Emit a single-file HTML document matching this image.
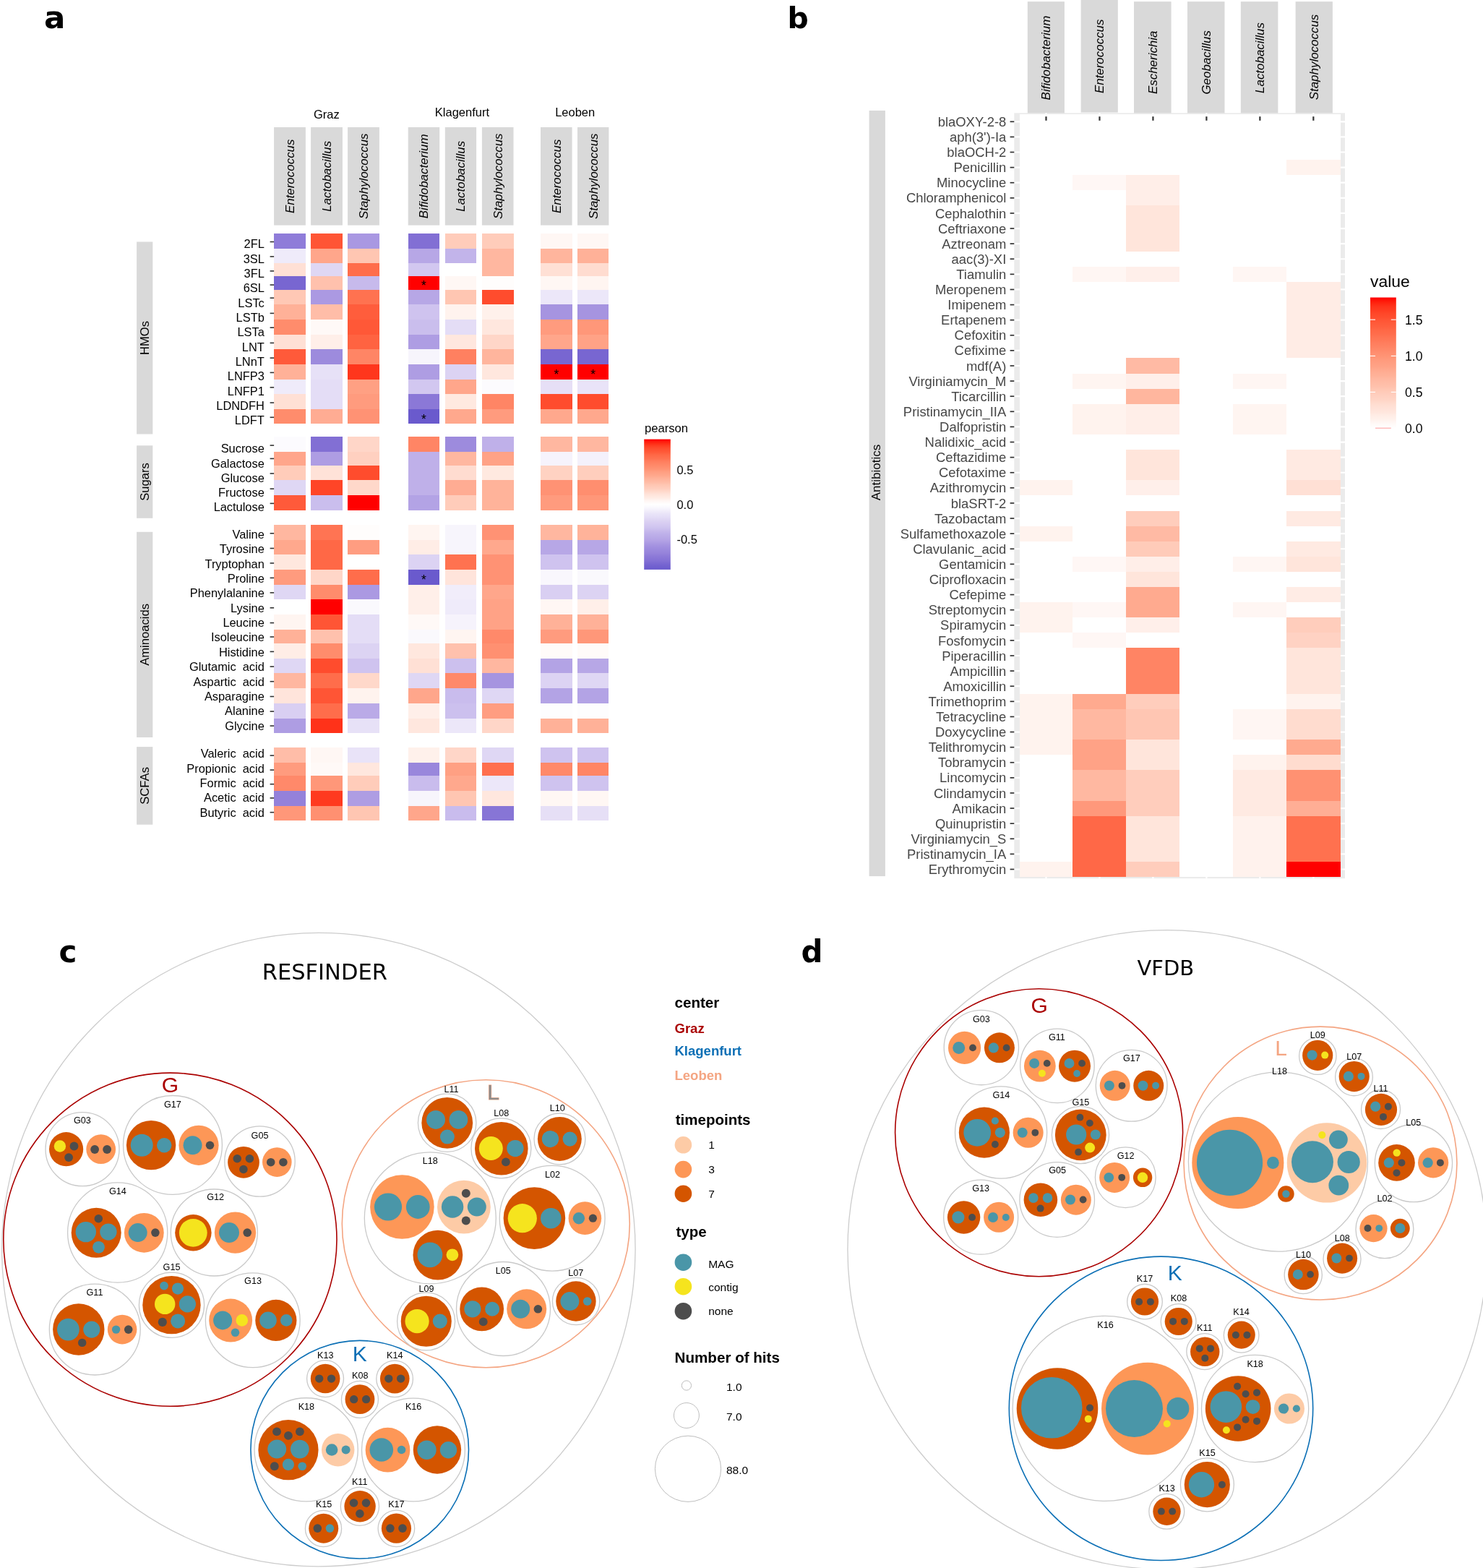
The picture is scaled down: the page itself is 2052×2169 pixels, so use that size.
<!DOCTYPE html>
<html><head><meta charset="utf-8"><title>Figure</title>
<style>html,body{margin:0;padding:0;background:#fff;}svg{display:block;}</style>
</head><body>
<svg xmlns="http://www.w3.org/2000/svg" width="2052" height="2169" viewBox="0 0 2052 2169">
<rect width="2052" height="2169" fill="#FFFFFF"/>
<text x="61.0" y="38.8" style="font-family:'DejaVu Sans',sans-serif;font-weight:bold;font-size:43.5px">a</text>
<g style="font-family:'Liberation Sans',Arial,sans-serif;font-size:16.5px" text-anchor="middle">
<text x="451.9" y="163.6">Graz</text>
<text x="639.4" y="161.2">Klagenfurt</text>
<text x="795.7" y="161.2">Leoben</text>
</g>
<g fill="#D9D9D9">
<rect x="379.1" y="176.0" width="43.8" height="135.6"/>
<rect x="430.1" y="176.0" width="43.8" height="135.6"/>
<rect x="481.1" y="176.0" width="43.8" height="135.6"/>
<rect x="564.7" y="176.0" width="43.5" height="135.6"/>
<rect x="615.8" y="176.0" width="43.3" height="135.6"/>
<rect x="666.9" y="176.0" width="43.6" height="135.6"/>
<rect x="748" y="176.0" width="43.6" height="135.6"/>
<rect x="799" y="176.0" width="43.4" height="135.6"/>
</g>
<g style="font-family:'Liberation Sans',Arial,sans-serif;font-size:16.95px;font-style:italic" text-anchor="middle">
<text transform="translate(407,243.8) rotate(-90)">Enterococcus</text>
<text transform="translate(458,243.8) rotate(-90)">Lactobacillus</text>
<text transform="translate(509,243.8) rotate(-90)">Staphylococcus</text>
<text transform="translate(592.45,243.8) rotate(-90)">Bifidobacterium</text>
<text transform="translate(643.45,243.8) rotate(-90)">Lactobacillus</text>
<text transform="translate(694.7,243.8) rotate(-90)">Staphylococcus</text>
<text transform="translate(775.8,243.8) rotate(-90)">Enterococcus</text>
<text transform="translate(826.7,243.8) rotate(-90)">Staphylococcus</text>
</g>
<g shape-rendering="crispEdges">
<rect x="379.1" y="323.4" width="43.8" height="20.3" fill="#8F7CD9"/>
<rect x="379.1" y="343.7" width="43.8" height="20.7" fill="#EFEBFA"/>
<rect x="379.1" y="364.4" width="43.8" height="17.4" fill="#FFE0D5"/>
<rect x="379.1" y="381.8" width="43.8" height="18.8" fill="#7866D1"/>
<rect x="379.1" y="400.6" width="43.8" height="20.7" fill="#FFC8B5"/>
<rect x="379.1" y="421.3" width="43.8" height="20.6" fill="#FFB198"/>
<rect x="379.1" y="441.9" width="43.8" height="20.7" fill="#FF8C6C"/>
<rect x="379.1" y="462.6" width="43.8" height="20.6" fill="#FFE0D5"/>
<rect x="379.1" y="483.2" width="43.8" height="20.7" fill="#FF5A3A"/>
<rect x="379.1" y="503.9" width="43.8" height="20.7" fill="#FFB198"/>
<rect x="379.1" y="524.6" width="43.8" height="20.6" fill="#EFEBFA"/>
<rect x="379.1" y="545.2" width="43.8" height="20.7" fill="#FFE0D5"/>
<rect x="379.1" y="565.9" width="43.8" height="20.3" fill="#FF8C6C"/>
<rect x="430.1" y="323.4" width="43.8" height="20.3" fill="#FF5535"/>
<rect x="430.1" y="343.7" width="43.8" height="20.7" fill="#FFA68B"/>
<rect x="430.1" y="364.4" width="43.8" height="17.4" fill="#DFD7F4"/>
<rect x="430.1" y="381.8" width="43.8" height="18.8" fill="#FFC1AD"/>
<rect x="430.1" y="400.6" width="43.8" height="20.7" fill="#AB99E2"/>
<rect x="430.1" y="421.3" width="43.8" height="20.6" fill="#FFBDA8"/>
<rect x="430.1" y="441.9" width="43.8" height="20.7" fill="#FFF9F7"/>
<rect x="430.1" y="462.6" width="43.8" height="20.6" fill="#FFEFE9"/>
<rect x="430.1" y="483.2" width="43.8" height="20.7" fill="#9D8BDD"/>
<rect x="430.1" y="503.9" width="43.8" height="20.7" fill="#E7E1F7"/>
<rect x="430.1" y="524.6" width="43.8" height="20.6" fill="#E4DDF6"/>
<rect x="430.1" y="545.2" width="43.8" height="20.7" fill="#E4DDF6"/>
<rect x="430.1" y="565.9" width="43.8" height="20.3" fill="#FFAC93"/>
<rect x="481.1" y="323.4" width="43.8" height="20.3" fill="#A998E2"/>
<rect x="481.1" y="343.7" width="43.8" height="20.7" fill="#FFC6B2"/>
<rect x="481.1" y="364.4" width="43.8" height="17.4" fill="#FF6D4B"/>
<rect x="481.1" y="381.8" width="43.8" height="18.8" fill="#C7BAEC"/>
<rect x="481.1" y="400.6" width="43.8" height="20.7" fill="#FF7250"/>
<rect x="481.1" y="421.3" width="43.8" height="20.6" fill="#FF5D3C"/>
<rect x="481.1" y="441.9" width="43.8" height="20.7" fill="#FF5837"/>
<rect x="481.1" y="462.6" width="43.8" height="20.6" fill="#FF6341"/>
<rect x="481.1" y="483.2" width="43.8" height="20.7" fill="#FF8565"/>
<rect x="481.1" y="503.9" width="43.8" height="20.7" fill="#FF361C"/>
<rect x="481.1" y="524.6" width="43.8" height="20.6" fill="#FFA083"/>
<rect x="481.1" y="545.2" width="43.8" height="20.7" fill="#FF9B7E"/>
<rect x="481.1" y="565.9" width="43.8" height="20.3" fill="#FF9274"/>
<rect x="564.7" y="323.4" width="43.5" height="20.3" fill="#826FD4"/>
<rect x="564.7" y="343.7" width="43.5" height="20.7" fill="#B7A7E6"/>
<rect x="564.7" y="364.4" width="43.5" height="17.4" fill="#D2C7F0"/>
<rect x="564.7" y="381.8" width="43.5" height="18.8" fill="#FF0000"/>
<rect x="564.7" y="400.6" width="43.5" height="20.7" fill="#B7A7E6"/>
<rect x="564.7" y="421.3" width="43.5" height="20.6" fill="#CFC3EF"/>
<rect x="564.7" y="441.9" width="43.5" height="20.7" fill="#CABEED"/>
<rect x="564.7" y="462.6" width="43.5" height="20.6" fill="#AE9DE3"/>
<rect x="564.7" y="483.2" width="43.5" height="20.7" fill="#F7F5FC"/>
<rect x="564.7" y="503.9" width="43.5" height="20.7" fill="#AE9DE3"/>
<rect x="564.7" y="524.6" width="43.5" height="20.6" fill="#D2C7F0"/>
<rect x="564.7" y="545.2" width="43.5" height="20.7" fill="#8B78D7"/>
<rect x="564.7" y="565.9" width="43.5" height="20.3" fill="#6A5ACD"/>
<rect x="615.8" y="323.4" width="43.3" height="20.3" fill="#FFCCBA"/>
<rect x="615.8" y="343.7" width="43.3" height="20.7" fill="#C2B4EA"/>
<rect x="615.8" y="364.4" width="43.3" height="17.4" fill="#FFFFFF"/>
<rect x="615.8" y="381.8" width="43.3" height="18.8" fill="#FFF7F4"/>
<rect x="615.8" y="400.6" width="43.3" height="20.7" fill="#FFC6B2"/>
<rect x="615.8" y="421.3" width="43.3" height="20.6" fill="#FFF3EE"/>
<rect x="615.8" y="441.9" width="43.3" height="20.7" fill="#E4DDF6"/>
<rect x="615.8" y="462.6" width="43.3" height="20.6" fill="#FFE7DE"/>
<rect x="615.8" y="483.2" width="43.3" height="20.7" fill="#FF8060"/>
<rect x="615.8" y="503.9" width="43.3" height="20.7" fill="#DCD3F3"/>
<rect x="615.8" y="524.6" width="43.3" height="20.6" fill="#FFA68B"/>
<rect x="615.8" y="545.2" width="43.3" height="20.7" fill="#FFE9E0"/>
<rect x="615.8" y="565.9" width="43.3" height="20.3" fill="#FFA88D"/>
<rect x="666.9" y="323.4" width="43.6" height="20.3" fill="#FFCCBA"/>
<rect x="666.9" y="343.7" width="43.6" height="20.7" fill="#FFB7A0"/>
<rect x="666.9" y="364.4" width="43.6" height="17.4" fill="#FFB7A0"/>
<rect x="666.9" y="381.8" width="43.6" height="18.8" fill="#FFFDFC"/>
<rect x="666.9" y="400.6" width="43.6" height="20.7" fill="#FF4C2D"/>
<rect x="666.9" y="421.3" width="43.6" height="20.6" fill="#FFF1EB"/>
<rect x="666.9" y="441.9" width="43.6" height="20.7" fill="#FFE7DE"/>
<rect x="666.9" y="462.6" width="43.6" height="20.6" fill="#FFD6C8"/>
<rect x="666.9" y="483.2" width="43.6" height="20.7" fill="#FFB59D"/>
<rect x="666.9" y="503.9" width="43.6" height="20.7" fill="#FFE7DE"/>
<rect x="666.9" y="524.6" width="43.6" height="20.6" fill="#FCFBFE"/>
<rect x="666.9" y="545.2" width="43.6" height="20.7" fill="#FF8565"/>
<rect x="666.9" y="565.9" width="43.6" height="20.3" fill="#FF9B7E"/>
<rect x="748" y="323.4" width="43.6" height="20.3" fill="#FFF7F4"/>
<rect x="748" y="343.7" width="43.6" height="20.7" fill="#FFB59D"/>
<rect x="748" y="364.4" width="43.6" height="17.4" fill="#FFE0D5"/>
<rect x="748" y="381.8" width="43.6" height="18.8" fill="#FFF7F4"/>
<rect x="748" y="400.6" width="43.6" height="20.7" fill="#ECE7F9"/>
<rect x="748" y="421.3" width="43.6" height="20.6" fill="#A694E0"/>
<rect x="748" y="441.9" width="43.6" height="20.7" fill="#FF9B7E"/>
<rect x="748" y="462.6" width="43.6" height="20.6" fill="#FFA68B"/>
<rect x="748" y="483.2" width="43.6" height="20.7" fill="#7866D1"/>
<rect x="748" y="503.9" width="43.6" height="20.7" fill="#FF0000"/>
<rect x="748" y="524.6" width="43.6" height="20.6" fill="#E6DFF6"/>
<rect x="748" y="545.2" width="43.6" height="20.7" fill="#FF4C2D"/>
<rect x="748" y="565.9" width="43.6" height="20.3" fill="#FFA88D"/>
<rect x="799" y="323.4" width="43.4" height="20.3" fill="#FFF7F4"/>
<rect x="799" y="343.7" width="43.4" height="20.7" fill="#FFB198"/>
<rect x="799" y="364.4" width="43.4" height="17.4" fill="#FFDCD0"/>
<rect x="799" y="381.8" width="43.4" height="18.8" fill="#FFF5F1"/>
<rect x="799" y="400.6" width="43.4" height="20.7" fill="#ECE7F9"/>
<rect x="799" y="421.3" width="43.4" height="20.6" fill="#A694E0"/>
<rect x="799" y="441.9" width="43.4" height="20.7" fill="#FF9779"/>
<rect x="799" y="462.6" width="43.4" height="20.6" fill="#FFA286"/>
<rect x="799" y="483.2" width="43.4" height="20.7" fill="#7866D1"/>
<rect x="799" y="503.9" width="43.4" height="20.7" fill="#FF0000"/>
<rect x="799" y="524.6" width="43.4" height="20.6" fill="#E9E3F8"/>
<rect x="799" y="545.2" width="43.4" height="20.7" fill="#FF4C2D"/>
<rect x="799" y="565.9" width="43.4" height="20.3" fill="#FFA88D"/>
<rect x="379.1" y="604.3" width="43.8" height="20.9" fill="#FCFBFE"/>
<rect x="379.1" y="625.2" width="43.8" height="18.7" fill="#FFA68B"/>
<rect x="379.1" y="643.9" width="43.8" height="20.4" fill="#FFCCBA"/>
<rect x="379.1" y="664.3" width="43.8" height="20.7" fill="#DFD7F4"/>
<rect x="379.1" y="685" width="43.8" height="20.5" fill="#FF5A3A"/>
<rect x="430.1" y="604.3" width="43.8" height="20.9" fill="#826FD4"/>
<rect x="430.1" y="625.2" width="43.8" height="18.7" fill="#AE9DE3"/>
<rect x="430.1" y="643.9" width="43.8" height="20.4" fill="#FFE2D8"/>
<rect x="430.1" y="664.3" width="43.8" height="20.7" fill="#FF4527"/>
<rect x="430.1" y="685" width="43.8" height="20.5" fill="#CABEED"/>
<rect x="481.1" y="604.3" width="43.8" height="20.9" fill="#FFD6C8"/>
<rect x="481.1" y="625.2" width="43.8" height="18.7" fill="#FFD0C0"/>
<rect x="481.1" y="643.9" width="43.8" height="20.4" fill="#FF4C2D"/>
<rect x="481.1" y="664.3" width="43.8" height="20.7" fill="#FFD8CA"/>
<rect x="481.1" y="685" width="43.8" height="20.5" fill="#FF0000"/>
<rect x="564.7" y="604.3" width="43.5" height="20.9" fill="#FF8565"/>
<rect x="564.7" y="625.2" width="43.5" height="18.7" fill="#BFB0E9"/>
<rect x="564.7" y="643.9" width="43.5" height="20.4" fill="#BFB0E9"/>
<rect x="564.7" y="664.3" width="43.5" height="20.7" fill="#BFB0E9"/>
<rect x="564.7" y="685" width="43.5" height="20.5" fill="#B3A3E5"/>
<rect x="615.8" y="604.3" width="43.3" height="20.9" fill="#9D8BDD"/>
<rect x="615.8" y="625.2" width="43.3" height="18.7" fill="#FFB7A0"/>
<rect x="615.8" y="643.9" width="43.3" height="20.4" fill="#FFDCD0"/>
<rect x="615.8" y="664.3" width="43.3" height="20.7" fill="#FFAC93"/>
<rect x="615.8" y="685" width="43.3" height="20.5" fill="#FFCCBA"/>
<rect x="666.9" y="604.3" width="43.6" height="20.9" fill="#BFB0E9"/>
<rect x="666.9" y="625.2" width="43.6" height="18.7" fill="#FFA286"/>
<rect x="666.9" y="643.9" width="43.6" height="20.4" fill="#FFE9E0"/>
<rect x="666.9" y="664.3" width="43.6" height="20.7" fill="#FFB39A"/>
<rect x="666.9" y="685" width="43.6" height="20.5" fill="#FFB39A"/>
<rect x="748" y="604.3" width="43.6" height="20.9" fill="#FFB7A0"/>
<rect x="748" y="625.2" width="43.6" height="18.7" fill="#F6F3FC"/>
<rect x="748" y="643.9" width="43.6" height="20.4" fill="#FFD2C2"/>
<rect x="748" y="664.3" width="43.6" height="20.7" fill="#FF9274"/>
<rect x="748" y="685" width="43.6" height="20.5" fill="#FF9B7E"/>
<rect x="799" y="604.3" width="43.4" height="20.9" fill="#FFB7A0"/>
<rect x="799" y="625.2" width="43.4" height="18.7" fill="#F4F1FB"/>
<rect x="799" y="643.9" width="43.4" height="20.4" fill="#FFCEBD"/>
<rect x="799" y="664.3" width="43.4" height="20.7" fill="#FF8E6F"/>
<rect x="799" y="685" width="43.4" height="20.5" fill="#FF9779"/>
<rect x="379.1" y="726.1" width="43.8" height="20.7" fill="#FFB7A0"/>
<rect x="379.1" y="746.8" width="43.8" height="20.6" fill="#FFA88D"/>
<rect x="379.1" y="767.4" width="43.8" height="20.5" fill="#FFE7DE"/>
<rect x="379.1" y="787.9" width="43.8" height="20.7" fill="#FF9B7E"/>
<rect x="379.1" y="808.6" width="43.8" height="20.5" fill="#DFD7F4"/>
<rect x="379.1" y="829.1" width="43.8" height="20.7" fill="#FFFFFF"/>
<rect x="379.1" y="849.8" width="43.8" height="21.2" fill="#FFF5F1"/>
<rect x="379.1" y="871" width="43.8" height="19" fill="#FFB198"/>
<rect x="379.1" y="890" width="43.8" height="21" fill="#FFEDE6"/>
<rect x="379.1" y="911" width="43.8" height="20.1" fill="#DFD7F4"/>
<rect x="379.1" y="931.1" width="43.8" height="20.8" fill="#FFB7A0"/>
<rect x="379.1" y="951.9" width="43.8" height="21" fill="#FFE4DB"/>
<rect x="379.1" y="972.9" width="43.8" height="20.6" fill="#D9CFF2"/>
<rect x="379.1" y="993.5" width="43.8" height="20" fill="#AE9DE3"/>
<rect x="430.1" y="726.1" width="43.8" height="20.7" fill="#FF7453"/>
<rect x="430.1" y="746.8" width="43.8" height="20.6" fill="#FF6846"/>
<rect x="430.1" y="767.4" width="43.8" height="20.5" fill="#FF6846"/>
<rect x="430.1" y="787.9" width="43.8" height="20.7" fill="#FFD6C8"/>
<rect x="430.1" y="808.6" width="43.8" height="20.5" fill="#FF8C6C"/>
<rect x="430.1" y="829.1" width="43.8" height="20.7" fill="#FF0000"/>
<rect x="430.1" y="849.8" width="43.8" height="21.2" fill="#FF5535"/>
<rect x="430.1" y="871" width="43.8" height="19" fill="#FFC1AD"/>
<rect x="430.1" y="890" width="43.8" height="21" fill="#FF8C6C"/>
<rect x="430.1" y="911" width="43.8" height="20.1" fill="#FF4C2D"/>
<rect x="430.1" y="931.1" width="43.8" height="20.8" fill="#FF6D4B"/>
<rect x="430.1" y="951.9" width="43.8" height="21" fill="#FF5535"/>
<rect x="430.1" y="972.9" width="43.8" height="20.6" fill="#FF6D4B"/>
<rect x="430.1" y="993.5" width="43.8" height="20" fill="#FF3219"/>
<rect x="481.1" y="726.1" width="43.8" height="20.7" fill="#FFFDFC"/>
<rect x="481.1" y="746.8" width="43.8" height="20.6" fill="#FF9D81"/>
<rect x="481.1" y="767.4" width="43.8" height="20.5" fill="#FFFFFF"/>
<rect x="481.1" y="787.9" width="43.8" height="20.7" fill="#FF6D4B"/>
<rect x="481.1" y="808.6" width="43.8" height="20.5" fill="#AB99E2"/>
<rect x="481.1" y="829.1" width="43.8" height="20.7" fill="#FAF9FD"/>
<rect x="481.1" y="849.8" width="43.8" height="21.2" fill="#E4DDF6"/>
<rect x="481.1" y="871" width="43.8" height="19" fill="#E4DDF6"/>
<rect x="481.1" y="890" width="43.8" height="21" fill="#DCD3F3"/>
<rect x="481.1" y="911" width="43.8" height="20.1" fill="#CFC3EF"/>
<rect x="481.1" y="931.1" width="43.8" height="20.8" fill="#FFD8CA"/>
<rect x="481.1" y="951.9" width="43.8" height="21" fill="#FFF3EE"/>
<rect x="481.1" y="972.9" width="43.8" height="20.6" fill="#BAAAE7"/>
<rect x="481.1" y="993.5" width="43.8" height="20" fill="#E7E1F7"/>
<rect x="564.7" y="726.1" width="43.5" height="20.7" fill="#FFF5F1"/>
<rect x="564.7" y="746.8" width="43.5" height="20.6" fill="#FFEDE6"/>
<rect x="564.7" y="767.4" width="43.5" height="20.5" fill="#DCD3F3"/>
<rect x="564.7" y="787.9" width="43.5" height="20.7" fill="#6A5ACD"/>
<rect x="564.7" y="808.6" width="43.5" height="20.5" fill="#FFEFE9"/>
<rect x="564.7" y="829.1" width="43.5" height="20.7" fill="#FFEFE9"/>
<rect x="564.7" y="849.8" width="43.5" height="21.2" fill="#FFF9F7"/>
<rect x="564.7" y="871" width="43.5" height="19" fill="#FAF9FD"/>
<rect x="564.7" y="890" width="43.5" height="21" fill="#FFE7DE"/>
<rect x="564.7" y="911" width="43.5" height="20.1" fill="#FFE0D5"/>
<rect x="564.7" y="931.1" width="43.5" height="20.8" fill="#DFD7F4"/>
<rect x="564.7" y="951.9" width="43.5" height="21" fill="#FFA68B"/>
<rect x="564.7" y="972.9" width="43.5" height="20.6" fill="#FFEFE9"/>
<rect x="564.7" y="993.5" width="43.5" height="20" fill="#FFE7DE"/>
<rect x="615.8" y="726.1" width="43.3" height="20.7" fill="#F7F5FC"/>
<rect x="615.8" y="746.8" width="43.3" height="20.6" fill="#F7F5FC"/>
<rect x="615.8" y="767.4" width="43.3" height="20.5" fill="#FF7250"/>
<rect x="615.8" y="787.9" width="43.3" height="20.7" fill="#FFE4DB"/>
<rect x="615.8" y="808.6" width="43.3" height="20.5" fill="#F1EDFA"/>
<rect x="615.8" y="829.1" width="43.3" height="20.7" fill="#EFEBFA"/>
<rect x="615.8" y="849.8" width="43.3" height="21.2" fill="#F6F3FC"/>
<rect x="615.8" y="871" width="43.3" height="19" fill="#FFF5F1"/>
<rect x="615.8" y="890" width="43.3" height="21" fill="#FFC1AD"/>
<rect x="615.8" y="911" width="43.3" height="20.1" fill="#CCC0EE"/>
<rect x="615.8" y="931.1" width="43.3" height="20.8" fill="#FF896A"/>
<rect x="615.8" y="951.9" width="43.3" height="21" fill="#C9BCED"/>
<rect x="615.8" y="972.9" width="43.3" height="20.6" fill="#CCC0EE"/>
<rect x="615.8" y="993.5" width="43.3" height="20" fill="#ECE7F9"/>
<rect x="666.9" y="726.1" width="43.6" height="20.7" fill="#FF9274"/>
<rect x="666.9" y="746.8" width="43.6" height="20.6" fill="#FFA88D"/>
<rect x="666.9" y="767.4" width="43.6" height="20.5" fill="#FF9274"/>
<rect x="666.9" y="787.9" width="43.6" height="20.7" fill="#FF9274"/>
<rect x="666.9" y="808.6" width="43.6" height="20.5" fill="#FFA68B"/>
<rect x="666.9" y="829.1" width="43.6" height="20.7" fill="#FFA286"/>
<rect x="666.9" y="849.8" width="43.6" height="21.2" fill="#FFA286"/>
<rect x="666.9" y="871" width="43.6" height="19" fill="#FF896A"/>
<rect x="666.9" y="890" width="43.6" height="21" fill="#FF9071"/>
<rect x="666.9" y="911" width="43.6" height="20.1" fill="#FFB7A0"/>
<rect x="666.9" y="931.1" width="43.6" height="20.8" fill="#A694E0"/>
<rect x="666.9" y="951.9" width="43.6" height="21" fill="#DFD7F4"/>
<rect x="666.9" y="972.9" width="43.6" height="20.6" fill="#FF9D81"/>
<rect x="666.9" y="993.5" width="43.6" height="20" fill="#FFD6C8"/>
<rect x="748" y="726.1" width="43.6" height="20.7" fill="#FFB7A0"/>
<rect x="748" y="746.8" width="43.6" height="20.6" fill="#B7A7E6"/>
<rect x="748" y="767.4" width="43.6" height="20.5" fill="#CFC3EF"/>
<rect x="748" y="787.9" width="43.6" height="20.7" fill="#F9F7FD"/>
<rect x="748" y="808.6" width="43.6" height="20.5" fill="#D9CFF2"/>
<rect x="748" y="829.1" width="43.6" height="20.7" fill="#FFF7F4"/>
<rect x="748" y="849.8" width="43.6" height="21.2" fill="#FFB198"/>
<rect x="748" y="871" width="43.6" height="19" fill="#FF9B7E"/>
<rect x="748" y="890" width="43.6" height="21" fill="#FFFBF9"/>
<rect x="748" y="911" width="43.6" height="20.1" fill="#B3A3E5"/>
<rect x="748" y="931.1" width="43.6" height="20.8" fill="#DCD3F3"/>
<rect x="748" y="951.9" width="43.6" height="21" fill="#B3A3E5"/>
<rect x="748" y="972.9" width="43.6" height="20.6" fill="#FDFDFE"/>
<rect x="748" y="993.5" width="43.6" height="20" fill="#FFB198"/>
<rect x="799" y="726.1" width="43.4" height="20.7" fill="#FFB39A"/>
<rect x="799" y="746.8" width="43.4" height="20.6" fill="#B7A7E6"/>
<rect x="799" y="767.4" width="43.4" height="20.5" fill="#CFC3EF"/>
<rect x="799" y="787.9" width="43.4" height="20.7" fill="#FAF9FD"/>
<rect x="799" y="808.6" width="43.4" height="20.5" fill="#DCD3F3"/>
<rect x="799" y="829.1" width="43.4" height="20.7" fill="#FFEFE9"/>
<rect x="799" y="849.8" width="43.4" height="21.2" fill="#FFB198"/>
<rect x="799" y="871" width="43.4" height="19" fill="#FF9779"/>
<rect x="799" y="890" width="43.4" height="21" fill="#FFFBF9"/>
<rect x="799" y="911" width="43.4" height="20.1" fill="#B7A7E6"/>
<rect x="799" y="931.1" width="43.4" height="20.8" fill="#DFD7F4"/>
<rect x="799" y="951.9" width="43.4" height="21" fill="#B3A3E5"/>
<rect x="799" y="972.9" width="43.4" height="20.6" fill="#FDFDFE"/>
<rect x="799" y="993.5" width="43.4" height="20" fill="#FFB198"/>
<rect x="379.1" y="1033.8" width="43.8" height="21.2" fill="#FFBDA8"/>
<rect x="379.1" y="1055" width="43.8" height="17.9" fill="#FF9B7E"/>
<rect x="379.1" y="1072.9" width="43.8" height="21.1" fill="#FF896A"/>
<rect x="379.1" y="1094" width="43.8" height="20.7" fill="#9481DA"/>
<rect x="379.1" y="1114.7" width="43.8" height="20" fill="#FF9779"/>
<rect x="430.1" y="1033.8" width="43.8" height="21.2" fill="#FFF7F4"/>
<rect x="430.1" y="1055" width="43.8" height="17.9" fill="#FFF9F7"/>
<rect x="430.1" y="1072.9" width="43.8" height="21.1" fill="#FF9779"/>
<rect x="430.1" y="1094" width="43.8" height="20.7" fill="#FF3A1F"/>
<rect x="430.1" y="1114.7" width="43.8" height="20" fill="#FF9071"/>
<rect x="481.1" y="1033.8" width="43.8" height="21.2" fill="#E9E3F8"/>
<rect x="481.1" y="1055" width="43.8" height="17.9" fill="#FFE7DE"/>
<rect x="481.1" y="1072.9" width="43.8" height="21.1" fill="#FFCCBA"/>
<rect x="481.1" y="1094" width="43.8" height="20.7" fill="#AE9DE3"/>
<rect x="481.1" y="1114.7" width="43.8" height="20" fill="#FFC6B2"/>
<rect x="564.7" y="1033.8" width="43.5" height="21.2" fill="#FFF1EB"/>
<rect x="564.7" y="1055" width="43.5" height="17.9" fill="#9987DC"/>
<rect x="564.7" y="1072.9" width="43.5" height="21.1" fill="#C9BCED"/>
<rect x="564.7" y="1094" width="43.5" height="20.7" fill="#F7F5FC"/>
<rect x="564.7" y="1114.7" width="43.5" height="20" fill="#FFA68B"/>
<rect x="615.8" y="1033.8" width="43.3" height="21.2" fill="#FFD6C8"/>
<rect x="615.8" y="1055" width="43.3" height="17.9" fill="#FFA083"/>
<rect x="615.8" y="1072.9" width="43.3" height="21.1" fill="#FFA88D"/>
<rect x="615.8" y="1094" width="43.3" height="20.7" fill="#FFC6B2"/>
<rect x="615.8" y="1114.7" width="43.3" height="20" fill="#C9BCED"/>
<rect x="666.9" y="1033.8" width="43.6" height="21.2" fill="#DFD7F4"/>
<rect x="666.9" y="1055" width="43.6" height="17.9" fill="#FF6F4E"/>
<rect x="666.9" y="1072.9" width="43.6" height="21.1" fill="#ECE7F9"/>
<rect x="666.9" y="1094" width="43.6" height="20.7" fill="#FFE7DE"/>
<rect x="666.9" y="1114.7" width="43.6" height="20" fill="#8775D6"/>
<rect x="748" y="1033.8" width="43.6" height="21.2" fill="#CFC3EF"/>
<rect x="748" y="1055" width="43.6" height="17.9" fill="#FF896A"/>
<rect x="748" y="1072.9" width="43.6" height="21.1" fill="#CFC3EF"/>
<rect x="748" y="1094" width="43.6" height="20.7" fill="#FFF7F4"/>
<rect x="748" y="1114.7" width="43.6" height="20" fill="#E6DFF6"/>
<rect x="799" y="1033.8" width="43.4" height="21.2" fill="#CFC3EF"/>
<rect x="799" y="1055" width="43.4" height="17.9" fill="#FF8565"/>
<rect x="799" y="1072.9" width="43.4" height="21.1" fill="#CFC3EF"/>
<rect x="799" y="1094" width="43.4" height="20.7" fill="#FFF7F4"/>
<rect x="799" y="1114.7" width="43.4" height="20" fill="#E6DFF6"/>
</g>
<g style="font-family:'Liberation Sans',Arial,sans-serif;font-size:17.5px" text-anchor="middle">
<text x="586.45" y="400.8">*</text>
<text x="586.45" y="585.65">*</text>
<text x="769.8" y="523.85">*</text>
<text x="820.7" y="523.85">*</text>
<text x="586.45" y="807.85">*</text>
</g>
<g style="font-family:'Liberation Sans',Arial,sans-serif;font-size:16.4px" text-anchor="end">
<text x="365.8" y="343.4" xml:space="preserve">2FL</text>
<text x="365.8" y="363.72" xml:space="preserve">3SL</text>
<text x="365.8" y="384.03" xml:space="preserve">3FL</text>
<text x="365.8" y="404.35" xml:space="preserve">6SL</text>
<text x="365.8" y="424.67" xml:space="preserve">LSTc</text>
<text x="365.8" y="444.98" xml:space="preserve">LSTb</text>
<text x="365.8" y="465.3" xml:space="preserve">LSTa</text>
<text x="365.8" y="485.62" xml:space="preserve">LNT</text>
<text x="365.8" y="505.93" xml:space="preserve">LNnT</text>
<text x="365.8" y="526.25" xml:space="preserve">LNFP3</text>
<text x="365.8" y="546.57" xml:space="preserve">LNFP1</text>
<text x="365.8" y="566.88" xml:space="preserve">LDNDFH</text>
<text x="365.8" y="587.2" xml:space="preserve">LDFT</text>
<text x="365.8" y="626.4" xml:space="preserve">Sucrose</text>
<text x="365.8" y="646.65" xml:space="preserve">Galactose</text>
<text x="365.8" y="666.9" xml:space="preserve">Glucose</text>
<text x="365.8" y="687.15" xml:space="preserve">Fructose</text>
<text x="365.8" y="707.4" xml:space="preserve">Lactulose</text>
<text x="365.8" y="744.8" xml:space="preserve">Valine</text>
<text x="365.8" y="765.18" xml:space="preserve">Tyrosine</text>
<text x="365.8" y="785.55" xml:space="preserve">Tryptophan</text>
<text x="365.8" y="805.93" xml:space="preserve">Proline</text>
<text x="365.8" y="826.31" xml:space="preserve">Phenylalanine</text>
<text x="365.8" y="846.68" xml:space="preserve">Lysine</text>
<text x="365.8" y="867.06" xml:space="preserve">Leucine</text>
<text x="365.8" y="887.44" xml:space="preserve">Isoleucine</text>
<text x="365.8" y="907.82" xml:space="preserve">Histidine</text>
<text x="365.8" y="928.19" xml:space="preserve">Glutamic  acid</text>
<text x="365.8" y="948.57" xml:space="preserve">Aspartic  acid</text>
<text x="365.8" y="968.95" xml:space="preserve">Asparagine</text>
<text x="365.8" y="989.32" xml:space="preserve">Alanine</text>
<text x="365.8" y="1009.7" xml:space="preserve">Glycine</text>
<text x="365.8" y="1048.1" xml:space="preserve">Valeric  acid</text>
<text x="365.8" y="1068.5" xml:space="preserve">Propionic  acid</text>
<text x="365.8" y="1088.9" xml:space="preserve">Formic  acid</text>
<text x="365.8" y="1109.3" xml:space="preserve">Acetic  acid</text>
<text x="365.8" y="1129.7" xml:space="preserve">Butyric  acid</text>
</g>
<g stroke="#333333" stroke-width="1.6">
<line x1="373.6" y1="334.5" x2="379.1" y2="334.5"/>
<line x1="373.6" y1="354.9" x2="379.1" y2="354.9"/>
<line x1="373.6" y1="374.9" x2="379.1" y2="374.9"/>
<line x1="373.6" y1="394.1" x2="379.1" y2="394.1"/>
<line x1="373.6" y1="412.2" x2="379.1" y2="412.2"/>
<line x1="373.6" y1="433.4" x2="379.1" y2="433.4"/>
<line x1="373.6" y1="453.2" x2="379.1" y2="453.2"/>
<line x1="373.6" y1="474.4" x2="379.1" y2="474.4"/>
<line x1="373.6" y1="495.2" x2="379.1" y2="495.2"/>
<line x1="373.6" y1="515.4" x2="379.1" y2="515.4"/>
<line x1="373.6" y1="535.9" x2="379.1" y2="535.9"/>
<line x1="373.6" y1="557.1" x2="379.1" y2="557.1"/>
<line x1="373.6" y1="577.3" x2="379.1" y2="577.3"/>
<line x1="373.6" y1="616.1" x2="379.1" y2="616.1"/>
<line x1="373.6" y1="634.4" x2="379.1" y2="634.4"/>
<line x1="373.6" y1="655" x2="379.1" y2="655"/>
<line x1="373.6" y1="676.2" x2="379.1" y2="676.2"/>
<line x1="373.6" y1="696.4" x2="379.1" y2="696.4"/>
<line x1="373.6" y1="737.8" x2="379.1" y2="737.8"/>
<line x1="373.6" y1="758.5" x2="379.1" y2="758.5"/>
<line x1="373.6" y1="779" x2="379.1" y2="779"/>
<line x1="373.6" y1="799.4" x2="379.1" y2="799.4"/>
<line x1="373.6" y1="819.9" x2="379.1" y2="819.9"/>
<line x1="373.6" y1="840.8" x2="379.1" y2="840.8"/>
<line x1="373.6" y1="861.6" x2="379.1" y2="861.6"/>
<line x1="373.6" y1="881" x2="379.1" y2="881"/>
<line x1="373.6" y1="901.4" x2="379.1" y2="901.4"/>
<line x1="373.6" y1="922.1" x2="379.1" y2="922.1"/>
<line x1="373.6" y1="942.7" x2="379.1" y2="942.7"/>
<line x1="373.6" y1="963.5" x2="379.1" y2="963.5"/>
<line x1="373.6" y1="984.1" x2="379.1" y2="984.1"/>
<line x1="373.6" y1="1004.1" x2="379.1" y2="1004.1"/>
<line x1="373.6" y1="1045.1" x2="379.1" y2="1045.1"/>
<line x1="373.6" y1="1065.1" x2="379.1" y2="1065.1"/>
<line x1="373.6" y1="1084.7" x2="379.1" y2="1084.7"/>
<line x1="373.6" y1="1103.9" x2="379.1" y2="1103.9"/>
<line x1="373.6" y1="1123.7" x2="379.1" y2="1123.7"/>
</g>
<g fill="#D9D9D9">
<rect x="189.1" y="334.5" width="22.2" height="266"/>
<rect x="189.1" y="616.3" width="22.2" height="100.5"/>
<rect x="189.1" y="735.8" width="22.2" height="284.2"/>
<rect x="189.1" y="1033.1" width="22.2" height="107.6"/>
</g>
<g style="font-family:'Liberation Sans',Arial,sans-serif;font-size:16.6px" text-anchor="middle">
<text transform="translate(206.3,467.5) rotate(-90)">HMOs</text>
<text transform="translate(206.3,666.55) rotate(-90)">Sugars</text>
<text transform="translate(206.3,877.9) rotate(-90)">Aminoacids</text>
<text transform="translate(206.3,1086.9) rotate(-90)">SCFAs</text>
</g>
<defs><linearGradient id="gpear" x1="0" y1="0" x2="0" y2="1"><stop offset="0" stop-color="#FF0000"/><stop offset="0.03" stop-color="#FF2913"/><stop offset="0.05" stop-color="#FF3E22"/><stop offset="0.07" stop-color="#FF4D2E"/><stop offset="0.1" stop-color="#FF5B3A"/><stop offset="0.12" stop-color="#FF6846"/><stop offset="0.15" stop-color="#FF7352"/><stop offset="0.17" stop-color="#FF7E5E"/><stop offset="0.2" stop-color="#FF8969"/><stop offset="0.23" stop-color="#FF9475"/><stop offset="0.25" stop-color="#FF9E81"/><stop offset="0.28" stop-color="#FFA88D"/><stop offset="0.3" stop-color="#FFB299"/><stop offset="0.33" stop-color="#FFBCA6"/><stop offset="0.35" stop-color="#FFC6B2"/><stop offset="0.38" stop-color="#FFCFBF"/><stop offset="0.4" stop-color="#FFD9CB"/><stop offset="0.42" stop-color="#FFE2D8"/><stop offset="0.45" stop-color="#FFECE5"/><stop offset="0.47" stop-color="#FFF5F2"/><stop offset="0.5" stop-color="#FFFFFF"/><stop offset="0.53" stop-color="#F8F6FD"/><stop offset="0.55" stop-color="#F1EDFA"/><stop offset="0.57" stop-color="#EAE5F8"/><stop offset="0.6" stop-color="#E3DCF6"/><stop offset="0.62" stop-color="#DDD4F3"/><stop offset="0.65" stop-color="#D6CBF1"/><stop offset="0.68" stop-color="#CEC3EF"/><stop offset="0.7" stop-color="#C7BAEC"/><stop offset="0.72" stop-color="#C0B2EA"/><stop offset="0.75" stop-color="#B9AAE7"/><stop offset="0.78" stop-color="#B2A1E5"/><stop offset="0.8" stop-color="#AA99E2"/><stop offset="0.82" stop-color="#A391E0"/><stop offset="0.85" stop-color="#9B89DD"/><stop offset="0.88" stop-color="#9481DA"/><stop offset="0.9" stop-color="#8C79D8"/><stop offset="0.93" stop-color="#8471D5"/><stop offset="0.95" stop-color="#7B69D2"/><stop offset="0.97" stop-color="#7362D0"/><stop offset="1" stop-color="#6A5ACD"/></linearGradient>
<linearGradient id="gval" x1="0" y1="0" x2="0" y2="1"><stop offset="0" stop-color="#FF0000"/><stop offset="0.03" stop-color="#FF1B0A"/><stop offset="0.05" stop-color="#FF2913"/><stop offset="0.07" stop-color="#FF341B"/><stop offset="0.1" stop-color="#FF3E22"/><stop offset="0.12" stop-color="#FF4628"/><stop offset="0.15" stop-color="#FF4D2E"/><stop offset="0.17" stop-color="#FF5434"/><stop offset="0.2" stop-color="#FF5B3A"/><stop offset="0.23" stop-color="#FF6140"/><stop offset="0.25" stop-color="#FF6846"/><stop offset="0.28" stop-color="#FF6D4C"/><stop offset="0.3" stop-color="#FF7352"/><stop offset="0.33" stop-color="#FF7958"/><stop offset="0.35" stop-color="#FF7E5E"/><stop offset="0.38" stop-color="#FF8464"/><stop offset="0.4" stop-color="#FF8969"/><stop offset="0.42" stop-color="#FF8E6F"/><stop offset="0.45" stop-color="#FF9475"/><stop offset="0.47" stop-color="#FF997B"/><stop offset="0.5" stop-color="#FF9E81"/><stop offset="0.53" stop-color="#FFA387"/><stop offset="0.55" stop-color="#FFA88D"/><stop offset="0.57" stop-color="#FFAD93"/><stop offset="0.6" stop-color="#FFB299"/><stop offset="0.62" stop-color="#FFB7A0"/><stop offset="0.65" stop-color="#FFBCA6"/><stop offset="0.68" stop-color="#FFC1AC"/><stop offset="0.7" stop-color="#FFC6B2"/><stop offset="0.72" stop-color="#FFCAB8"/><stop offset="0.75" stop-color="#FFCFBF"/><stop offset="0.78" stop-color="#FFD4C5"/><stop offset="0.8" stop-color="#FFD9CB"/><stop offset="0.82" stop-color="#FFDED2"/><stop offset="0.85" stop-color="#FFE2D8"/><stop offset="0.88" stop-color="#FFE7DE"/><stop offset="0.9" stop-color="#FFECE5"/><stop offset="0.93" stop-color="#FFF1EB"/><stop offset="0.95" stop-color="#FFF5F2"/><stop offset="0.97" stop-color="#FFFAF8"/><stop offset="1" stop-color="#FFFFFF"/></linearGradient></defs>
<text x="892" y="597.5" style="font-family:'Liberation Sans',Arial,sans-serif;font-size:16.6px">pearson</text>
<rect x="891.2" y="607.6" width="36.6" height="180.3" fill="url(#gpear)"/>
<g style="font-family:'Liberation Sans',Arial,sans-serif;font-size:16.4px">
<text x="936.5" y="655.6">0.5</text>
<text x="936.5" y="704.0">0.0</text>
<text x="936.5" y="752.2">-0.5</text>
</g>
<text x="1089.6" y="39.3" style="font-family:'DejaVu Sans',sans-serif;font-weight:bold;font-size:41px">b</text>
<g fill="#D9D9D9">
<rect x="1421.8" y="2.2" width="51.1" height="155.6"/>
<rect x="1495.6" y="0" width="51.2" height="155.6"/>
<rect x="1569" y="2.2" width="51.6" height="155.6"/>
<rect x="1643" y="2.2" width="51.5" height="155.6"/>
<rect x="1716.8" y="2.2" width="51.6" height="155.6"/>
<rect x="1792.6" y="2.2" width="51.3" height="155.6"/>
</g>
<g style="font-family:'Liberation Sans',Arial,sans-serif;font-size:16.95px;font-style:italic" text-anchor="middle">
<text transform="translate(1453.35,80) rotate(-90)">Bifidobacterium</text>
<text transform="translate(1527.2,77.8) rotate(-90)">Enterococcus</text>
<text transform="translate(1600.8,86.3) rotate(-90)">Escherichia</text>
<text transform="translate(1674.75,86.3) rotate(-90)">Geobacillus</text>
<text transform="translate(1748.6,80) rotate(-90)">Lactobacillus</text>
<text transform="translate(1824.25,79) rotate(-90)">Staphylococcus</text>
</g>
<rect x="1403.3" y="156.3" width="457.7" height="1058.8" fill="#EBEBEB"/>
<g stroke="#FFFFFF" stroke-width="2.2">
<line x1="1403.3" y1="168.3" x2="1861" y2="168.3"/>
<line x1="1403.3" y1="189.41" x2="1861" y2="189.41"/>
<line x1="1403.3" y1="210.51" x2="1861" y2="210.51"/>
<line x1="1403.3" y1="231.62" x2="1861" y2="231.62"/>
<line x1="1403.3" y1="252.72" x2="1861" y2="252.72"/>
<line x1="1403.3" y1="273.83" x2="1861" y2="273.83"/>
<line x1="1403.3" y1="294.94" x2="1861" y2="294.94"/>
<line x1="1403.3" y1="316.04" x2="1861" y2="316.04"/>
<line x1="1403.3" y1="337.15" x2="1861" y2="337.15"/>
<line x1="1403.3" y1="358.25" x2="1861" y2="358.25"/>
<line x1="1403.3" y1="379.36" x2="1861" y2="379.36"/>
<line x1="1403.3" y1="400.47" x2="1861" y2="400.47"/>
<line x1="1403.3" y1="421.57" x2="1861" y2="421.57"/>
<line x1="1403.3" y1="442.68" x2="1861" y2="442.68"/>
<line x1="1403.3" y1="463.78" x2="1861" y2="463.78"/>
<line x1="1403.3" y1="484.89" x2="1861" y2="484.89"/>
<line x1="1403.3" y1="506" x2="1861" y2="506"/>
<line x1="1403.3" y1="527.1" x2="1861" y2="527.1"/>
<line x1="1403.3" y1="548.21" x2="1861" y2="548.21"/>
<line x1="1403.3" y1="569.31" x2="1861" y2="569.31"/>
<line x1="1403.3" y1="590.42" x2="1861" y2="590.42"/>
<line x1="1403.3" y1="611.53" x2="1861" y2="611.53"/>
<line x1="1403.3" y1="632.63" x2="1861" y2="632.63"/>
<line x1="1403.3" y1="653.74" x2="1861" y2="653.74"/>
<line x1="1403.3" y1="674.84" x2="1861" y2="674.84"/>
<line x1="1403.3" y1="695.95" x2="1861" y2="695.95"/>
<line x1="1403.3" y1="717.06" x2="1861" y2="717.06"/>
<line x1="1403.3" y1="738.16" x2="1861" y2="738.16"/>
<line x1="1403.3" y1="759.27" x2="1861" y2="759.27"/>
<line x1="1403.3" y1="780.37" x2="1861" y2="780.37"/>
<line x1="1403.3" y1="801.48" x2="1861" y2="801.48"/>
<line x1="1403.3" y1="822.59" x2="1861" y2="822.59"/>
<line x1="1403.3" y1="843.69" x2="1861" y2="843.69"/>
<line x1="1403.3" y1="864.8" x2="1861" y2="864.8"/>
<line x1="1403.3" y1="885.9" x2="1861" y2="885.9"/>
<line x1="1403.3" y1="907.01" x2="1861" y2="907.01"/>
<line x1="1403.3" y1="928.12" x2="1861" y2="928.12"/>
<line x1="1403.3" y1="949.22" x2="1861" y2="949.22"/>
<line x1="1403.3" y1="970.33" x2="1861" y2="970.33"/>
<line x1="1403.3" y1="991.43" x2="1861" y2="991.43"/>
<line x1="1403.3" y1="1012.54" x2="1861" y2="1012.54"/>
<line x1="1403.3" y1="1033.65" x2="1861" y2="1033.65"/>
<line x1="1403.3" y1="1054.75" x2="1861" y2="1054.75"/>
<line x1="1403.3" y1="1075.86" x2="1861" y2="1075.86"/>
<line x1="1403.3" y1="1096.96" x2="1861" y2="1096.96"/>
<line x1="1403.3" y1="1118.07" x2="1861" y2="1118.07"/>
<line x1="1403.3" y1="1139.18" x2="1861" y2="1139.18"/>
<line x1="1403.3" y1="1160.28" x2="1861" y2="1160.28"/>
<line x1="1403.3" y1="1181.39" x2="1861" y2="1181.39"/>
<line x1="1403.3" y1="1202.49" x2="1861" y2="1202.49"/>
<line x1="1447.48" y1="156.3" x2="1447.48" y2="1215.1"/>
<line x1="1521.45" y1="156.3" x2="1521.45" y2="1215.1"/>
<line x1="1595.42" y1="156.3" x2="1595.42" y2="1215.1"/>
<line x1="1669.39" y1="156.3" x2="1669.39" y2="1215.1"/>
<line x1="1743.37" y1="156.3" x2="1743.37" y2="1215.1"/>
<line x1="1817.34" y1="156.3" x2="1817.34" y2="1215.1"/>
</g>
<g shape-rendering="crispEdges">
<rect x="1410.5" y="157.75" width="74.27" height="21.41" fill="#FFFFFF"/>
<rect x="1484.47" y="157.75" width="74.27" height="21.41" fill="#FFFFFF"/>
<rect x="1558.44" y="157.75" width="74.27" height="21.41" fill="#FFFFFF"/>
<rect x="1632.41" y="157.75" width="74.27" height="21.41" fill="#FFFFFF"/>
<rect x="1706.38" y="157.75" width="74.27" height="21.41" fill="#FFFFFF"/>
<rect x="1780.35" y="157.75" width="74.27" height="21.41" fill="#FFFFFF"/>
<rect x="1410.5" y="178.85" width="74.27" height="21.41" fill="#FFFFFF"/>
<rect x="1484.47" y="178.85" width="74.27" height="21.41" fill="#FFFFFF"/>
<rect x="1558.44" y="178.85" width="74.27" height="21.41" fill="#FFFFFF"/>
<rect x="1632.41" y="178.85" width="74.27" height="21.41" fill="#FFFFFF"/>
<rect x="1706.38" y="178.85" width="74.27" height="21.41" fill="#FFFFFF"/>
<rect x="1780.35" y="178.85" width="74.27" height="21.41" fill="#FFFFFF"/>
<rect x="1410.5" y="199.96" width="74.27" height="21.41" fill="#FFFFFF"/>
<rect x="1484.47" y="199.96" width="74.27" height="21.41" fill="#FFFFFF"/>
<rect x="1558.44" y="199.96" width="74.27" height="21.41" fill="#FFFFFF"/>
<rect x="1632.41" y="199.96" width="74.27" height="21.41" fill="#FFFFFF"/>
<rect x="1706.38" y="199.96" width="74.27" height="21.41" fill="#FFFFFF"/>
<rect x="1780.35" y="199.96" width="74.27" height="21.41" fill="#FFFFFF"/>
<rect x="1410.5" y="221.06" width="74.27" height="21.41" fill="#FFFFFF"/>
<rect x="1484.47" y="221.06" width="74.27" height="21.41" fill="#FFFFFF"/>
<rect x="1558.44" y="221.06" width="74.27" height="21.41" fill="#FFFFFF"/>
<rect x="1632.41" y="221.06" width="74.27" height="21.41" fill="#FFFFFF"/>
<rect x="1706.38" y="221.06" width="74.27" height="21.41" fill="#FFFFFF"/>
<rect x="1780.35" y="221.06" width="74.27" height="21.41" fill="#FFF3EE"/>
<rect x="1410.5" y="242.17" width="74.27" height="21.41" fill="#FFFFFF"/>
<rect x="1484.47" y="242.17" width="74.27" height="21.41" fill="#FFF7F5"/>
<rect x="1558.44" y="242.17" width="74.27" height="21.41" fill="#FFEEE8"/>
<rect x="1632.41" y="242.17" width="74.27" height="21.41" fill="#FFFFFF"/>
<rect x="1706.38" y="242.17" width="74.27" height="21.41" fill="#FFFFFF"/>
<rect x="1780.35" y="242.17" width="74.27" height="21.41" fill="#FFFFFF"/>
<rect x="1410.5" y="263.28" width="74.27" height="21.41" fill="#FFFFFF"/>
<rect x="1484.47" y="263.28" width="74.27" height="21.41" fill="#FFFFFF"/>
<rect x="1558.44" y="263.28" width="74.27" height="21.41" fill="#FFEEE8"/>
<rect x="1632.41" y="263.28" width="74.27" height="21.41" fill="#FFFFFF"/>
<rect x="1706.38" y="263.28" width="74.27" height="21.41" fill="#FFFFFF"/>
<rect x="1780.35" y="263.28" width="74.27" height="21.41" fill="#FFFFFF"/>
<rect x="1410.5" y="284.38" width="74.27" height="21.41" fill="#FFFFFF"/>
<rect x="1484.47" y="284.38" width="74.27" height="21.41" fill="#FFFFFF"/>
<rect x="1558.44" y="284.38" width="74.27" height="21.41" fill="#FFE5DB"/>
<rect x="1632.41" y="284.38" width="74.27" height="21.41" fill="#FFFFFF"/>
<rect x="1706.38" y="284.38" width="74.27" height="21.41" fill="#FFFFFF"/>
<rect x="1780.35" y="284.38" width="74.27" height="21.41" fill="#FFFFFF"/>
<rect x="1410.5" y="305.49" width="74.27" height="21.41" fill="#FFFFFF"/>
<rect x="1484.47" y="305.49" width="74.27" height="21.41" fill="#FFFFFF"/>
<rect x="1558.44" y="305.49" width="74.27" height="21.41" fill="#FFE5DB"/>
<rect x="1632.41" y="305.49" width="74.27" height="21.41" fill="#FFFFFF"/>
<rect x="1706.38" y="305.49" width="74.27" height="21.41" fill="#FFFFFF"/>
<rect x="1780.35" y="305.49" width="74.27" height="21.41" fill="#FFFFFF"/>
<rect x="1410.5" y="326.6" width="74.27" height="21.41" fill="#FFFFFF"/>
<rect x="1484.47" y="326.6" width="74.27" height="21.41" fill="#FFFFFF"/>
<rect x="1558.44" y="326.6" width="74.27" height="21.41" fill="#FFE5DB"/>
<rect x="1632.41" y="326.6" width="74.27" height="21.41" fill="#FFFFFF"/>
<rect x="1706.38" y="326.6" width="74.27" height="21.41" fill="#FFFFFF"/>
<rect x="1780.35" y="326.6" width="74.27" height="21.41" fill="#FFFFFF"/>
<rect x="1410.5" y="347.7" width="74.27" height="21.41" fill="#FFFFFF"/>
<rect x="1484.47" y="347.7" width="74.27" height="21.41" fill="#FFFFFF"/>
<rect x="1558.44" y="347.7" width="74.27" height="21.41" fill="#FFFFFF"/>
<rect x="1632.41" y="347.7" width="74.27" height="21.41" fill="#FFFFFF"/>
<rect x="1706.38" y="347.7" width="74.27" height="21.41" fill="#FFFFFF"/>
<rect x="1780.35" y="347.7" width="74.27" height="21.41" fill="#FFFFFF"/>
<rect x="1410.5" y="368.81" width="74.27" height="21.41" fill="#FFFFFF"/>
<rect x="1484.47" y="368.81" width="74.27" height="21.41" fill="#FFF6F3"/>
<rect x="1558.44" y="368.81" width="74.27" height="21.41" fill="#FFEFEA"/>
<rect x="1632.41" y="368.81" width="74.27" height="21.41" fill="#FFFFFF"/>
<rect x="1706.38" y="368.81" width="74.27" height="21.41" fill="#FFF6F3"/>
<rect x="1780.35" y="368.81" width="74.27" height="21.41" fill="#FFFFFF"/>
<rect x="1410.5" y="389.91" width="74.27" height="21.41" fill="#FFFFFF"/>
<rect x="1484.47" y="389.91" width="74.27" height="21.41" fill="#FFFFFF"/>
<rect x="1558.44" y="389.91" width="74.27" height="21.41" fill="#FFFFFF"/>
<rect x="1632.41" y="389.91" width="74.27" height="21.41" fill="#FFFFFF"/>
<rect x="1706.38" y="389.91" width="74.27" height="21.41" fill="#FFFFFF"/>
<rect x="1780.35" y="389.91" width="74.27" height="21.41" fill="#FFECE5"/>
<rect x="1410.5" y="411.02" width="74.27" height="21.41" fill="#FFFFFF"/>
<rect x="1484.47" y="411.02" width="74.27" height="21.41" fill="#FFFFFF"/>
<rect x="1558.44" y="411.02" width="74.27" height="21.41" fill="#FFFFFF"/>
<rect x="1632.41" y="411.02" width="74.27" height="21.41" fill="#FFFFFF"/>
<rect x="1706.38" y="411.02" width="74.27" height="21.41" fill="#FFFFFF"/>
<rect x="1780.35" y="411.02" width="74.27" height="21.41" fill="#FFECE5"/>
<rect x="1410.5" y="432.13" width="74.27" height="21.41" fill="#FFFFFF"/>
<rect x="1484.47" y="432.13" width="74.27" height="21.41" fill="#FFFFFF"/>
<rect x="1558.44" y="432.13" width="74.27" height="21.41" fill="#FFFFFF"/>
<rect x="1632.41" y="432.13" width="74.27" height="21.41" fill="#FFFFFF"/>
<rect x="1706.38" y="432.13" width="74.27" height="21.41" fill="#FFFFFF"/>
<rect x="1780.35" y="432.13" width="74.27" height="21.41" fill="#FFECE5"/>
<rect x="1410.5" y="453.23" width="74.27" height="21.41" fill="#FFFFFF"/>
<rect x="1484.47" y="453.23" width="74.27" height="21.41" fill="#FFFFFF"/>
<rect x="1558.44" y="453.23" width="74.27" height="21.41" fill="#FFFFFF"/>
<rect x="1632.41" y="453.23" width="74.27" height="21.41" fill="#FFFFFF"/>
<rect x="1706.38" y="453.23" width="74.27" height="21.41" fill="#FFFFFF"/>
<rect x="1780.35" y="453.23" width="74.27" height="21.41" fill="#FFECE5"/>
<rect x="1410.5" y="474.34" width="74.27" height="21.41" fill="#FFFFFF"/>
<rect x="1484.47" y="474.34" width="74.27" height="21.41" fill="#FFFFFF"/>
<rect x="1558.44" y="474.34" width="74.27" height="21.41" fill="#FFFFFF"/>
<rect x="1632.41" y="474.34" width="74.27" height="21.41" fill="#FFFFFF"/>
<rect x="1706.38" y="474.34" width="74.27" height="21.41" fill="#FFFFFF"/>
<rect x="1780.35" y="474.34" width="74.27" height="21.41" fill="#FFECE5"/>
<rect x="1410.5" y="495.44" width="74.27" height="21.41" fill="#FFFFFF"/>
<rect x="1484.47" y="495.44" width="74.27" height="21.41" fill="#FFFFFF"/>
<rect x="1558.44" y="495.44" width="74.27" height="21.41" fill="#FFBAA4"/>
<rect x="1632.41" y="495.44" width="74.27" height="21.41" fill="#FFFFFF"/>
<rect x="1706.38" y="495.44" width="74.27" height="21.41" fill="#FFFFFF"/>
<rect x="1780.35" y="495.44" width="74.27" height="21.41" fill="#FFFFFF"/>
<rect x="1410.5" y="516.55" width="74.27" height="21.41" fill="#FFFFFF"/>
<rect x="1484.47" y="516.55" width="74.27" height="21.41" fill="#FFF5F1"/>
<rect x="1558.44" y="516.55" width="74.27" height="21.41" fill="#FFEFEA"/>
<rect x="1632.41" y="516.55" width="74.27" height="21.41" fill="#FFFFFF"/>
<rect x="1706.38" y="516.55" width="74.27" height="21.41" fill="#FFF6F3"/>
<rect x="1780.35" y="516.55" width="74.27" height="21.41" fill="#FFFFFF"/>
<rect x="1410.5" y="537.65" width="74.27" height="21.41" fill="#FFFFFF"/>
<rect x="1484.47" y="537.65" width="74.27" height="21.41" fill="#FFFFFF"/>
<rect x="1558.44" y="537.65" width="74.27" height="21.41" fill="#FFB69E"/>
<rect x="1632.41" y="537.65" width="74.27" height="21.41" fill="#FFFFFF"/>
<rect x="1706.38" y="537.65" width="74.27" height="21.41" fill="#FFFFFF"/>
<rect x="1780.35" y="537.65" width="74.27" height="21.41" fill="#FFFFFF"/>
<rect x="1410.5" y="558.76" width="74.27" height="21.41" fill="#FFFFFF"/>
<rect x="1484.47" y="558.76" width="74.27" height="21.41" fill="#FFF3EE"/>
<rect x="1558.44" y="558.76" width="74.27" height="21.41" fill="#FFEEE8"/>
<rect x="1632.41" y="558.76" width="74.27" height="21.41" fill="#FFFFFF"/>
<rect x="1706.38" y="558.76" width="74.27" height="21.41" fill="#FFF5F1"/>
<rect x="1780.35" y="558.76" width="74.27" height="21.41" fill="#FFFFFF"/>
<rect x="1410.5" y="579.87" width="74.27" height="21.41" fill="#FFFFFF"/>
<rect x="1484.47" y="579.87" width="74.27" height="21.41" fill="#FFF3EE"/>
<rect x="1558.44" y="579.87" width="74.27" height="21.41" fill="#FFEEE8"/>
<rect x="1632.41" y="579.87" width="74.27" height="21.41" fill="#FFFFFF"/>
<rect x="1706.38" y="579.87" width="74.27" height="21.41" fill="#FFF5F1"/>
<rect x="1780.35" y="579.87" width="74.27" height="21.41" fill="#FFFFFF"/>
<rect x="1410.5" y="600.97" width="74.27" height="21.41" fill="#FFFFFF"/>
<rect x="1484.47" y="600.97" width="74.27" height="21.41" fill="#FFFFFF"/>
<rect x="1558.44" y="600.97" width="74.27" height="21.41" fill="#FFFFFF"/>
<rect x="1632.41" y="600.97" width="74.27" height="21.41" fill="#FFFFFF"/>
<rect x="1706.38" y="600.97" width="74.27" height="21.41" fill="#FFFFFF"/>
<rect x="1780.35" y="600.97" width="74.27" height="21.41" fill="#FFFFFF"/>
<rect x="1410.5" y="622.08" width="74.27" height="21.41" fill="#FFFFFF"/>
<rect x="1484.47" y="622.08" width="74.27" height="21.41" fill="#FFFFFF"/>
<rect x="1558.44" y="622.08" width="74.27" height="21.41" fill="#FFE5DB"/>
<rect x="1632.41" y="622.08" width="74.27" height="21.41" fill="#FFFFFF"/>
<rect x="1706.38" y="622.08" width="74.27" height="21.41" fill="#FFFFFF"/>
<rect x="1780.35" y="622.08" width="74.27" height="21.41" fill="#FFEAE2"/>
<rect x="1410.5" y="643.19" width="74.27" height="21.41" fill="#FFFFFF"/>
<rect x="1484.47" y="643.19" width="74.27" height="21.41" fill="#FFFFFF"/>
<rect x="1558.44" y="643.19" width="74.27" height="21.41" fill="#FFE5DB"/>
<rect x="1632.41" y="643.19" width="74.27" height="21.41" fill="#FFFFFF"/>
<rect x="1706.38" y="643.19" width="74.27" height="21.41" fill="#FFFFFF"/>
<rect x="1780.35" y="643.19" width="74.27" height="21.41" fill="#FFEAE2"/>
<rect x="1410.5" y="664.29" width="74.27" height="21.41" fill="#FFF3EE"/>
<rect x="1484.47" y="664.29" width="74.27" height="21.41" fill="#FFFFFF"/>
<rect x="1558.44" y="664.29" width="74.27" height="21.41" fill="#FFEFEA"/>
<rect x="1632.41" y="664.29" width="74.27" height="21.41" fill="#FFFFFF"/>
<rect x="1706.38" y="664.29" width="74.27" height="21.41" fill="#FFFFFF"/>
<rect x="1780.35" y="664.29" width="74.27" height="21.41" fill="#FFE0D5"/>
<rect x="1410.5" y="685.4" width="74.27" height="21.41" fill="#FFFFFF"/>
<rect x="1484.47" y="685.4" width="74.27" height="21.41" fill="#FFFFFF"/>
<rect x="1558.44" y="685.4" width="74.27" height="21.41" fill="#FFFFFF"/>
<rect x="1632.41" y="685.4" width="74.27" height="21.41" fill="#FFFFFF"/>
<rect x="1706.38" y="685.4" width="74.27" height="21.41" fill="#FFFFFF"/>
<rect x="1780.35" y="685.4" width="74.27" height="21.41" fill="#FFFFFF"/>
<rect x="1410.5" y="706.5" width="74.27" height="21.41" fill="#FFFFFF"/>
<rect x="1484.47" y="706.5" width="74.27" height="21.41" fill="#FFFFFF"/>
<rect x="1558.44" y="706.5" width="74.27" height="21.41" fill="#FFCDBC"/>
<rect x="1632.41" y="706.5" width="74.27" height="21.41" fill="#FFFFFF"/>
<rect x="1706.38" y="706.5" width="74.27" height="21.41" fill="#FFFFFF"/>
<rect x="1780.35" y="706.5" width="74.27" height="21.41" fill="#FFEAE2"/>
<rect x="1410.5" y="727.61" width="74.27" height="21.41" fill="#FFF3EE"/>
<rect x="1484.47" y="727.61" width="74.27" height="21.41" fill="#FFFFFF"/>
<rect x="1558.44" y="727.61" width="74.27" height="21.41" fill="#FFBAA4"/>
<rect x="1632.41" y="727.61" width="74.27" height="21.41" fill="#FFFFFF"/>
<rect x="1706.38" y="727.61" width="74.27" height="21.41" fill="#FFFFFF"/>
<rect x="1780.35" y="727.61" width="74.27" height="21.41" fill="#FFFFFF"/>
<rect x="1410.5" y="748.72" width="74.27" height="21.41" fill="#FFFFFF"/>
<rect x="1484.47" y="748.72" width="74.27" height="21.41" fill="#FFFFFF"/>
<rect x="1558.44" y="748.72" width="74.27" height="21.41" fill="#FFCBB9"/>
<rect x="1632.41" y="748.72" width="74.27" height="21.41" fill="#FFFFFF"/>
<rect x="1706.38" y="748.72" width="74.27" height="21.41" fill="#FFFFFF"/>
<rect x="1780.35" y="748.72" width="74.27" height="21.41" fill="#FFEAE2"/>
<rect x="1410.5" y="769.82" width="74.27" height="21.41" fill="#FFFFFF"/>
<rect x="1484.47" y="769.82" width="74.27" height="21.41" fill="#FFF7F5"/>
<rect x="1558.44" y="769.82" width="74.27" height="21.41" fill="#FFEEE8"/>
<rect x="1632.41" y="769.82" width="74.27" height="21.41" fill="#FFFFFF"/>
<rect x="1706.38" y="769.82" width="74.27" height="21.41" fill="#FFF6F3"/>
<rect x="1780.35" y="769.82" width="74.27" height="21.41" fill="#FFE5DB"/>
<rect x="1410.5" y="790.93" width="74.27" height="21.41" fill="#FFFFFF"/>
<rect x="1484.47" y="790.93" width="74.27" height="21.41" fill="#FFFFFF"/>
<rect x="1558.44" y="790.93" width="74.27" height="21.41" fill="#FFE5DB"/>
<rect x="1632.41" y="790.93" width="74.27" height="21.41" fill="#FFFFFF"/>
<rect x="1706.38" y="790.93" width="74.27" height="21.41" fill="#FFFFFF"/>
<rect x="1780.35" y="790.93" width="74.27" height="21.41" fill="#FFFFFF"/>
<rect x="1410.5" y="812.03" width="74.27" height="21.41" fill="#FFFFFF"/>
<rect x="1484.47" y="812.03" width="74.27" height="21.41" fill="#FFFFFF"/>
<rect x="1558.44" y="812.03" width="74.27" height="21.41" fill="#FFAA8F"/>
<rect x="1632.41" y="812.03" width="74.27" height="21.41" fill="#FFFFFF"/>
<rect x="1706.38" y="812.03" width="74.27" height="21.41" fill="#FFFFFF"/>
<rect x="1780.35" y="812.03" width="74.27" height="21.41" fill="#FFECE5"/>
<rect x="1410.5" y="833.14" width="74.27" height="21.41" fill="#FFF3EE"/>
<rect x="1484.47" y="833.14" width="74.27" height="21.41" fill="#FFF7F5"/>
<rect x="1558.44" y="833.14" width="74.27" height="21.41" fill="#FFAA8F"/>
<rect x="1632.41" y="833.14" width="74.27" height="21.41" fill="#FFFFFF"/>
<rect x="1706.38" y="833.14" width="74.27" height="21.41" fill="#FFF6F3"/>
<rect x="1780.35" y="833.14" width="74.27" height="21.41" fill="#FFFFFF"/>
<rect x="1410.5" y="854.25" width="74.27" height="21.41" fill="#FFF3EE"/>
<rect x="1484.47" y="854.25" width="74.27" height="21.41" fill="#FFFFFF"/>
<rect x="1558.44" y="854.25" width="74.27" height="21.41" fill="#FFEFEA"/>
<rect x="1632.41" y="854.25" width="74.27" height="21.41" fill="#FFFFFF"/>
<rect x="1706.38" y="854.25" width="74.27" height="21.41" fill="#FFFFFF"/>
<rect x="1780.35" y="854.25" width="74.27" height="21.41" fill="#FFCDBC"/>
<rect x="1410.5" y="875.35" width="74.27" height="21.41" fill="#FFFFFF"/>
<rect x="1484.47" y="875.35" width="74.27" height="21.41" fill="#FFF7F5"/>
<rect x="1558.44" y="875.35" width="74.27" height="21.41" fill="#FFFFFF"/>
<rect x="1632.41" y="875.35" width="74.27" height="21.41" fill="#FFFFFF"/>
<rect x="1706.38" y="875.35" width="74.27" height="21.41" fill="#FFFFFF"/>
<rect x="1780.35" y="875.35" width="74.27" height="21.41" fill="#FFD2C3"/>
<rect x="1410.5" y="896.46" width="74.27" height="21.41" fill="#FFFFFF"/>
<rect x="1484.47" y="896.46" width="74.27" height="21.41" fill="#FFFFFF"/>
<rect x="1558.44" y="896.46" width="74.27" height="21.41" fill="#FF8464"/>
<rect x="1632.41" y="896.46" width="74.27" height="21.41" fill="#FFFFFF"/>
<rect x="1706.38" y="896.46" width="74.27" height="21.41" fill="#FFFFFF"/>
<rect x="1780.35" y="896.46" width="74.27" height="21.41" fill="#FFE5DB"/>
<rect x="1410.5" y="917.56" width="74.27" height="21.41" fill="#FFFFFF"/>
<rect x="1484.47" y="917.56" width="74.27" height="21.41" fill="#FFFFFF"/>
<rect x="1558.44" y="917.56" width="74.27" height="21.41" fill="#FF8464"/>
<rect x="1632.41" y="917.56" width="74.27" height="21.41" fill="#FFFFFF"/>
<rect x="1706.38" y="917.56" width="74.27" height="21.41" fill="#FFFFFF"/>
<rect x="1780.35" y="917.56" width="74.27" height="21.41" fill="#FFE5DB"/>
<rect x="1410.5" y="938.67" width="74.27" height="21.41" fill="#FFFFFF"/>
<rect x="1484.47" y="938.67" width="74.27" height="21.41" fill="#FFFFFF"/>
<rect x="1558.44" y="938.67" width="74.27" height="21.41" fill="#FF8464"/>
<rect x="1632.41" y="938.67" width="74.27" height="21.41" fill="#FFFFFF"/>
<rect x="1706.38" y="938.67" width="74.27" height="21.41" fill="#FFFFFF"/>
<rect x="1780.35" y="938.67" width="74.27" height="21.41" fill="#FFE5DB"/>
<rect x="1410.5" y="959.78" width="74.27" height="21.41" fill="#FFF3EE"/>
<rect x="1484.47" y="959.78" width="74.27" height="21.41" fill="#FFAA8F"/>
<rect x="1558.44" y="959.78" width="74.27" height="21.41" fill="#FFCDBC"/>
<rect x="1632.41" y="959.78" width="74.27" height="21.41" fill="#FFFFFF"/>
<rect x="1706.38" y="959.78" width="74.27" height="21.41" fill="#FFFFFF"/>
<rect x="1780.35" y="959.78" width="74.27" height="21.41" fill="#FFF3EE"/>
<rect x="1410.5" y="980.88" width="74.27" height="21.41" fill="#FFF3EE"/>
<rect x="1484.47" y="980.88" width="74.27" height="21.41" fill="#FFB8A1"/>
<rect x="1558.44" y="980.88" width="74.27" height="21.41" fill="#FFC6B3"/>
<rect x="1632.41" y="980.88" width="74.27" height="21.41" fill="#FFFFFF"/>
<rect x="1706.38" y="980.88" width="74.27" height="21.41" fill="#FFF6F3"/>
<rect x="1780.35" y="980.88" width="74.27" height="21.41" fill="#FFDCCF"/>
<rect x="1410.5" y="1001.99" width="74.27" height="21.41" fill="#FFF3EE"/>
<rect x="1484.47" y="1001.99" width="74.27" height="21.41" fill="#FFB8A1"/>
<rect x="1558.44" y="1001.99" width="74.27" height="21.41" fill="#FFC6B3"/>
<rect x="1632.41" y="1001.99" width="74.27" height="21.41" fill="#FFFFFF"/>
<rect x="1706.38" y="1001.99" width="74.27" height="21.41" fill="#FFF6F3"/>
<rect x="1780.35" y="1001.99" width="74.27" height="21.41" fill="#FFDCCF"/>
<rect x="1410.5" y="1023.09" width="74.27" height="21.41" fill="#FFF3EE"/>
<rect x="1484.47" y="1023.09" width="74.27" height="21.41" fill="#FFA286"/>
<rect x="1558.44" y="1023.09" width="74.27" height="21.41" fill="#FFE5DB"/>
<rect x="1632.41" y="1023.09" width="74.27" height="21.41" fill="#FFFFFF"/>
<rect x="1706.38" y="1023.09" width="74.27" height="21.41" fill="#FFFFFF"/>
<rect x="1780.35" y="1023.09" width="74.27" height="21.41" fill="#FFAA8F"/>
<rect x="1410.5" y="1044.2" width="74.27" height="21.41" fill="#FFFFFF"/>
<rect x="1484.47" y="1044.2" width="74.27" height="21.41" fill="#FFA286"/>
<rect x="1558.44" y="1044.2" width="74.27" height="21.41" fill="#FFE5DB"/>
<rect x="1632.41" y="1044.2" width="74.27" height="21.41" fill="#FFFFFF"/>
<rect x="1706.38" y="1044.2" width="74.27" height="21.41" fill="#FFF3EE"/>
<rect x="1780.35" y="1044.2" width="74.27" height="21.41" fill="#FFDCCF"/>
<rect x="1410.5" y="1065.31" width="74.27" height="21.41" fill="#FFFFFF"/>
<rect x="1484.47" y="1065.31" width="74.27" height="21.41" fill="#FFB8A1"/>
<rect x="1558.44" y="1065.31" width="74.27" height="21.41" fill="#FFCDBC"/>
<rect x="1632.41" y="1065.31" width="74.27" height="21.41" fill="#FFFFFF"/>
<rect x="1706.38" y="1065.31" width="74.27" height="21.41" fill="#FFEAE2"/>
<rect x="1780.35" y="1065.31" width="74.27" height="21.41" fill="#FF9172"/>
<rect x="1410.5" y="1086.41" width="74.27" height="21.41" fill="#FFFFFF"/>
<rect x="1484.47" y="1086.41" width="74.27" height="21.41" fill="#FFB8A1"/>
<rect x="1558.44" y="1086.41" width="74.27" height="21.41" fill="#FFCDBC"/>
<rect x="1632.41" y="1086.41" width="74.27" height="21.41" fill="#FFFFFF"/>
<rect x="1706.38" y="1086.41" width="74.27" height="21.41" fill="#FFEAE2"/>
<rect x="1780.35" y="1086.41" width="74.27" height="21.41" fill="#FF9172"/>
<rect x="1410.5" y="1107.52" width="74.27" height="21.41" fill="#FFFFFF"/>
<rect x="1484.47" y="1107.52" width="74.27" height="21.41" fill="#FF987B"/>
<rect x="1558.44" y="1107.52" width="74.27" height="21.41" fill="#FFCDBC"/>
<rect x="1632.41" y="1107.52" width="74.27" height="21.41" fill="#FFFFFF"/>
<rect x="1706.38" y="1107.52" width="74.27" height="21.41" fill="#FFEAE2"/>
<rect x="1780.35" y="1107.52" width="74.27" height="21.41" fill="#FFAE95"/>
<rect x="1410.5" y="1128.62" width="74.27" height="21.41" fill="#FFFFFF"/>
<rect x="1484.47" y="1128.62" width="74.27" height="21.41" fill="#FF6847"/>
<rect x="1558.44" y="1128.62" width="74.27" height="21.41" fill="#FFE5DB"/>
<rect x="1632.41" y="1128.62" width="74.27" height="21.41" fill="#FFFFFF"/>
<rect x="1706.38" y="1128.62" width="74.27" height="21.41" fill="#FFF2ED"/>
<rect x="1780.35" y="1128.62" width="74.27" height="21.41" fill="#FF714F"/>
<rect x="1410.5" y="1149.73" width="74.27" height="21.41" fill="#FFFFFF"/>
<rect x="1484.47" y="1149.73" width="74.27" height="21.41" fill="#FF6847"/>
<rect x="1558.44" y="1149.73" width="74.27" height="21.41" fill="#FFE5DB"/>
<rect x="1632.41" y="1149.73" width="74.27" height="21.41" fill="#FFFFFF"/>
<rect x="1706.38" y="1149.73" width="74.27" height="21.41" fill="#FFF2ED"/>
<rect x="1780.35" y="1149.73" width="74.27" height="21.41" fill="#FF714F"/>
<rect x="1410.5" y="1170.84" width="74.27" height="21.41" fill="#FFFFFF"/>
<rect x="1484.47" y="1170.84" width="74.27" height="21.41" fill="#FF6847"/>
<rect x="1558.44" y="1170.84" width="74.27" height="21.41" fill="#FFE5DB"/>
<rect x="1632.41" y="1170.84" width="74.27" height="21.41" fill="#FFFFFF"/>
<rect x="1706.38" y="1170.84" width="74.27" height="21.41" fill="#FFF2ED"/>
<rect x="1780.35" y="1170.84" width="74.27" height="21.41" fill="#FF714F"/>
<rect x="1410.5" y="1191.94" width="74.27" height="21.41" fill="#FFF3EE"/>
<rect x="1484.47" y="1191.94" width="74.27" height="21.41" fill="#FF6847"/>
<rect x="1558.44" y="1191.94" width="74.27" height="21.41" fill="#FFCDBC"/>
<rect x="1632.41" y="1191.94" width="74.27" height="21.41" fill="#FFFFFF"/>
<rect x="1706.38" y="1191.94" width="74.27" height="21.41" fill="#FFF2ED"/>
<rect x="1780.35" y="1191.94" width="74.27" height="21.41" fill="#FF0000"/>
</g>
<g fill="#333333">
<rect x="1446.38" y="161.2" width="2.2" height="5.6"/>
<rect x="1520.36" y="161.2" width="2.2" height="5.6"/>
<rect x="1594.33" y="161.2" width="2.2" height="5.6"/>
<rect x="1668.3" y="161.2" width="2.2" height="5.6"/>
<rect x="1742.27" y="161.2" width="2.2" height="5.6"/>
<rect x="1816.24" y="161.2" width="2.2" height="5.6"/>
</g>
<g style="font-family:'Liberation Sans',Arial,sans-serif;font-size:18.45px" fill="#474747" text-anchor="end">
<text x="1392.3" y="174.9">blaOXY-2-8</text>
<text x="1392.3" y="196.01">aph(3&#39;)-Ia</text>
<text x="1392.3" y="217.11">blaOCH-2</text>
<text x="1392.3" y="238.22">Penicillin</text>
<text x="1392.3" y="259.32">Minocycline</text>
<text x="1392.3" y="280.43">Chloramphenicol</text>
<text x="1392.3" y="301.54">Cephalothin</text>
<text x="1392.3" y="322.64">Ceftriaxone</text>
<text x="1392.3" y="343.75">Aztreonam</text>
<text x="1392.3" y="364.85">aac(3)-XI</text>
<text x="1392.3" y="385.96">Tiamulin</text>
<text x="1392.3" y="407.07">Meropenem</text>
<text x="1392.3" y="428.17">Imipenem</text>
<text x="1392.3" y="449.28">Ertapenem</text>
<text x="1392.3" y="470.38">Cefoxitin</text>
<text x="1392.3" y="491.49">Cefixime</text>
<text x="1392.3" y="512.6">mdf(A)</text>
<text x="1392.3" y="533.7">Virginiamycin_M</text>
<text x="1392.3" y="554.81">Ticarcillin</text>
<text x="1392.3" y="575.91">Pristinamycin_IIA</text>
<text x="1392.3" y="597.02">Dalfopristin</text>
<text x="1392.3" y="618.13">Nalidixic_acid</text>
<text x="1392.3" y="639.23">Ceftazidime</text>
<text x="1392.3" y="660.34">Cefotaxime</text>
<text x="1392.3" y="681.44">Azithromycin</text>
<text x="1392.3" y="702.55">blaSRT-2</text>
<text x="1392.3" y="723.66">Tazobactam</text>
<text x="1392.3" y="744.76">Sulfamethoxazole</text>
<text x="1392.3" y="765.87">Clavulanic_acid</text>
<text x="1392.3" y="786.97">Gentamicin</text>
<text x="1392.3" y="808.08">Ciprofloxacin</text>
<text x="1392.3" y="829.19">Cefepime</text>
<text x="1392.3" y="850.29">Streptomycin</text>
<text x="1392.3" y="871.4">Spiramycin</text>
<text x="1392.3" y="892.5">Fosfomycin</text>
<text x="1392.3" y="913.61">Piperacillin</text>
<text x="1392.3" y="934.72">Ampicillin</text>
<text x="1392.3" y="955.82">Amoxicillin</text>
<text x="1392.3" y="976.93">Trimethoprim</text>
<text x="1392.3" y="998.03">Tetracycline</text>
<text x="1392.3" y="1019.14">Doxycycline</text>
<text x="1392.3" y="1040.25">Telithromycin</text>
<text x="1392.3" y="1061.35">Tobramycin</text>
<text x="1392.3" y="1082.46">Lincomycin</text>
<text x="1392.3" y="1103.56">Clindamycin</text>
<text x="1392.3" y="1124.67">Amikacin</text>
<text x="1392.3" y="1145.78">Quinupristin</text>
<text x="1392.3" y="1166.88">Virginiamycin_S</text>
<text x="1392.3" y="1187.99">Pristinamycin_IA</text>
<text x="1392.3" y="1209.09">Erythromycin</text>
</g>
<g stroke="#333333" stroke-width="1.7">
<line x1="1397.6" y1="168.3" x2="1403.3" y2="168.3"/>
<line x1="1397.6" y1="189.41" x2="1403.3" y2="189.41"/>
<line x1="1397.6" y1="210.51" x2="1403.3" y2="210.51"/>
<line x1="1397.6" y1="231.62" x2="1403.3" y2="231.62"/>
<line x1="1397.6" y1="252.72" x2="1403.3" y2="252.72"/>
<line x1="1397.6" y1="273.83" x2="1403.3" y2="273.83"/>
<line x1="1397.6" y1="294.94" x2="1403.3" y2="294.94"/>
<line x1="1397.6" y1="316.04" x2="1403.3" y2="316.04"/>
<line x1="1397.6" y1="337.15" x2="1403.3" y2="337.15"/>
<line x1="1397.6" y1="358.25" x2="1403.3" y2="358.25"/>
<line x1="1397.6" y1="379.36" x2="1403.3" y2="379.36"/>
<line x1="1397.6" y1="400.47" x2="1403.3" y2="400.47"/>
<line x1="1397.6" y1="421.57" x2="1403.3" y2="421.57"/>
<line x1="1397.6" y1="442.68" x2="1403.3" y2="442.68"/>
<line x1="1397.6" y1="463.78" x2="1403.3" y2="463.78"/>
<line x1="1397.6" y1="484.89" x2="1403.3" y2="484.89"/>
<line x1="1397.6" y1="506" x2="1403.3" y2="506"/>
<line x1="1397.6" y1="527.1" x2="1403.3" y2="527.1"/>
<line x1="1397.6" y1="548.21" x2="1403.3" y2="548.21"/>
<line x1="1397.6" y1="569.31" x2="1403.3" y2="569.31"/>
<line x1="1397.6" y1="590.42" x2="1403.3" y2="590.42"/>
<line x1="1397.6" y1="611.53" x2="1403.3" y2="611.53"/>
<line x1="1397.6" y1="632.63" x2="1403.3" y2="632.63"/>
<line x1="1397.6" y1="653.74" x2="1403.3" y2="653.74"/>
<line x1="1397.6" y1="674.84" x2="1403.3" y2="674.84"/>
<line x1="1397.6" y1="695.95" x2="1403.3" y2="695.95"/>
<line x1="1397.6" y1="717.06" x2="1403.3" y2="717.06"/>
<line x1="1397.6" y1="738.16" x2="1403.3" y2="738.16"/>
<line x1="1397.6" y1="759.27" x2="1403.3" y2="759.27"/>
<line x1="1397.6" y1="780.37" x2="1403.3" y2="780.37"/>
<line x1="1397.6" y1="801.48" x2="1403.3" y2="801.48"/>
<line x1="1397.6" y1="822.59" x2="1403.3" y2="822.59"/>
<line x1="1397.6" y1="843.69" x2="1403.3" y2="843.69"/>
<line x1="1397.6" y1="864.8" x2="1403.3" y2="864.8"/>
<line x1="1397.6" y1="885.9" x2="1403.3" y2="885.9"/>
<line x1="1397.6" y1="907.01" x2="1403.3" y2="907.01"/>
<line x1="1397.6" y1="928.12" x2="1403.3" y2="928.12"/>
<line x1="1397.6" y1="949.22" x2="1403.3" y2="949.22"/>
<line x1="1397.6" y1="970.33" x2="1403.3" y2="970.33"/>
<line x1="1397.6" y1="991.43" x2="1403.3" y2="991.43"/>
<line x1="1397.6" y1="1012.54" x2="1403.3" y2="1012.54"/>
<line x1="1397.6" y1="1033.65" x2="1403.3" y2="1033.65"/>
<line x1="1397.6" y1="1054.75" x2="1403.3" y2="1054.75"/>
<line x1="1397.6" y1="1075.86" x2="1403.3" y2="1075.86"/>
<line x1="1397.6" y1="1096.96" x2="1403.3" y2="1096.96"/>
<line x1="1397.6" y1="1118.07" x2="1403.3" y2="1118.07"/>
<line x1="1397.6" y1="1139.18" x2="1403.3" y2="1139.18"/>
<line x1="1397.6" y1="1160.28" x2="1403.3" y2="1160.28"/>
<line x1="1397.6" y1="1181.39" x2="1403.3" y2="1181.39"/>
<line x1="1397.6" y1="1202.49" x2="1403.3" y2="1202.49"/>
</g>
<rect x="1202.6" y="152.95" width="22.3" height="1059.1" fill="#D9D9D9"/>
<text transform="translate(1217.5,653.5) rotate(-90)" text-anchor="middle" style="font-family:'Liberation Sans',Arial,sans-serif;font-size:17px">Antibiotics</text>
<text x="1896" y="397.1" style="font-family:'Liberation Sans',Arial,sans-serif;font-size:22.9px">value</text>
<rect x="1896" y="411.5" width="35.8" height="181" fill="url(#gval)"/>
<g stroke="#FFFFFF" stroke-width="1.1">
<line x1="1896" y1="442.2" x2="1903" y2="442.2"/><line x1="1924.8" y1="442.2" x2="1931.8" y2="442.2"/>
<line x1="1896" y1="492.4" x2="1903" y2="492.4"/><line x1="1924.8" y1="492.4" x2="1931.8" y2="492.4"/>
<line x1="1896" y1="542.4" x2="1903" y2="542.4"/><line x1="1924.8" y1="542.4" x2="1931.8" y2="542.4"/>
</g>
<line x1="1903" y1="592.2" x2="1924.8" y2="592.2" stroke="#FF9A9A" stroke-width="1"/>
<g style="font-family:'Liberation Sans',Arial,sans-serif;font-size:17.6px">
<text x="1944" y="449.2">1.5</text>
<text x="1944" y="498.8">1.0</text>
<text x="1944" y="548.9">0.5</text>
<text x="1944" y="598.7">0.0</text>
</g>
<text x="81.5" y="1330.5" style="font-family:'DejaVu Sans',Verdana,sans-serif;font-weight:bold;font-size:42px">c</text>
<circle cx="440.8" cy="1728.6" r="438.3" fill="none" stroke="#CCCCCC" stroke-width="1.3"/>
<text x="449.3" y="1354.9" text-anchor="middle" style="font-family:'DejaVu Sans',Verdana,sans-serif;font-size:30.5px">RESFINDER</text>
<circle cx="235.4" cy="1714.7" r="230.6" fill="none" stroke="#AA0000" stroke-width="1.6"/>
<circle cx="672.3" cy="1692.75" r="199" fill="none" stroke="#F4A582" stroke-width="1.6"/>
<circle cx="497.7" cy="2005.2" r="150.8" fill="none" stroke="#0B6FB5" stroke-width="1.6"/>
<circle cx="114" cy="1589.7" r="51" fill="none" stroke="#C9C9C9" stroke-width="1.3"/>
<circle cx="91.6" cy="1589.7" r="23.6" fill="#D45500"/>
<circle cx="82.9" cy="1585.5" r="8.2" fill="#F5E41E"/>
<circle cx="102.5" cy="1585.5" r="5.9" fill="#4D4D4D"/>
<circle cx="95.1" cy="1601.1" r="5.9" fill="#4D4D4D"/>
<circle cx="139.7" cy="1589.7" r="20.4" fill="#FD9757"/>
<circle cx="131.1" cy="1590" r="5.9" fill="#4D4D4D"/>
<circle cx="148.1" cy="1590" r="5.9" fill="#4D4D4D"/>
<circle cx="238.95" cy="1583.95" r="68.45" fill="none" stroke="#C9C9C9" stroke-width="1.3"/>
<circle cx="209.1" cy="1584.1" r="34.2" fill="#D45500"/>
<circle cx="196.2" cy="1584.2" r="15.5" fill="#4A96A8"/>
<circle cx="227.2" cy="1584.2" r="10.2" fill="#4A96A8"/>
<circle cx="275" cy="1584.3" r="27.6" fill="#FD9757"/>
<circle cx="266.5" cy="1584.2" r="13" fill="#4A96A8"/>
<circle cx="290.5" cy="1584.2" r="5.75" fill="#4D4D4D"/>
<circle cx="359.5" cy="1606.5" r="48.7" fill="none" stroke="#C9C9C9" stroke-width="1.3"/>
<circle cx="337" cy="1607.8" r="21.9" fill="#D45500"/>
<circle cx="328.2" cy="1602.7" r="5.76" fill="#4D4D4D"/>
<circle cx="345.4" cy="1602.7" r="5.76" fill="#4D4D4D"/>
<circle cx="336.9" cy="1617.5" r="5.76" fill="#4D4D4D"/>
<circle cx="383.3" cy="1607.6" r="20.3" fill="#FD9757"/>
<circle cx="374.7" cy="1607.7" r="5.8" fill="#4D4D4D"/>
<circle cx="391.9" cy="1607.7" r="5.8" fill="#4D4D4D"/>
<circle cx="162.7" cy="1705" r="69.1" fill="none" stroke="#C9C9C9" stroke-width="1.3"/>
<circle cx="133.2" cy="1705.3" r="34.5" fill="#D45500"/>
<circle cx="118.8" cy="1704.1" r="14.2" fill="#4A96A8"/>
<circle cx="149.9" cy="1704.1" r="11.7" fill="#4A96A8"/>
<circle cx="136.5" cy="1725.3" r="8.4" fill="#4A96A8"/>
<circle cx="136.3" cy="1685.7" r="5.76" fill="#4D4D4D"/>
<circle cx="199.3" cy="1705.3" r="27.4" fill="#FD9757"/>
<circle cx="190.7" cy="1705.1" r="13" fill="#4A96A8"/>
<circle cx="214.9" cy="1705.1" r="5.8" fill="#4D4D4D"/>
<circle cx="296.3" cy="1705" r="60" fill="none" stroke="#C9C9C9" stroke-width="1.3"/>
<circle cx="267.4" cy="1705.3" r="25.2" fill="#D45500"/>
<circle cx="267.3" cy="1705.3" r="19.4" fill="#F5E41E"/>
<circle cx="325.5" cy="1705.1" r="28.7" fill="#FD9757"/>
<circle cx="317" cy="1705.1" r="14" fill="#4A96A8"/>
<circle cx="342.2" cy="1705.1" r="5.8" fill="#4D4D4D"/>
<circle cx="131.25" cy="1839.05" r="62.95" fill="none" stroke="#C9C9C9" stroke-width="1.3"/>
<circle cx="108.8" cy="1839" r="35.7" fill="#D45500"/>
<circle cx="94.4" cy="1839.1" r="15.4" fill="#4A96A8"/>
<circle cx="126.8" cy="1839.1" r="11.6" fill="#4A96A8"/>
<circle cx="113.7" cy="1857.4" r="5.7" fill="#4D4D4D"/>
<circle cx="169.1" cy="1839.1" r="20.3" fill="#FD9757"/>
<circle cx="160.6" cy="1839.1" r="5.7" fill="#4A96A8"/>
<circle cx="177.7" cy="1839.1" r="5.8" fill="#4D4D4D"/>
<circle cx="237.5" cy="1805.3" r="45.1" fill="none" stroke="#C9C9C9" stroke-width="1.3"/>
<circle cx="237.45" cy="1805.15" r="40.2" fill="#D45500"/>
<circle cx="227" cy="1778.6" r="5.9" fill="#4A96A8"/>
<circle cx="246" cy="1782.6" r="8.1" fill="#4A96A8"/>
<circle cx="228.2" cy="1803.9" r="14.2" fill="#F5E41E"/>
<circle cx="259.4" cy="1803.9" r="11.6" fill="#4A96A8"/>
<circle cx="224.8" cy="1828.9" r="6.1" fill="#4D4D4D"/>
<circle cx="246.1" cy="1827.4" r="10" fill="#4A96A8"/>
<circle cx="349.75" cy="1826.3" r="65.4" fill="none" stroke="#C9C9C9" stroke-width="1.3"/>
<circle cx="319.15" cy="1826.55" r="29.95" fill="#FD9757"/>
<circle cx="308.1" cy="1826.4" r="13" fill="#4A96A8"/>
<circle cx="334.8" cy="1826.4" r="8.3" fill="#F5E41E"/>
<circle cx="325.5" cy="1843.3" r="5.8" fill="#4A96A8"/>
<circle cx="381.85" cy="1826.45" r="28.6" fill="#D45500"/>
<circle cx="371" cy="1826.4" r="11.8" fill="#4A96A8"/>
<circle cx="396.2" cy="1826.4" r="8.3" fill="#4A96A8"/>
<circle cx="618.65" cy="1553.2" r="40.25" fill="none" stroke="#C9C9C9" stroke-width="1.3"/>
<circle cx="618.75" cy="1553.3" r="35.4" fill="#D45500"/>
<circle cx="603" cy="1548.9" r="13" fill="#4A96A8"/>
<circle cx="634.4" cy="1548.9" r="12.9" fill="#4A96A8"/>
<circle cx="618.9" cy="1572.6" r="10" fill="#4A96A8"/>
<circle cx="693.4" cy="1588.4" r="41.5" fill="none" stroke="#C9C9C9" stroke-width="1.3"/>
<circle cx="693.8" cy="1588.75" r="36.8" fill="#D45500"/>
<circle cx="679.3" cy="1588.6" r="16.5" fill="#F5E41E"/>
<circle cx="712.9" cy="1588.6" r="11.7" fill="#4A96A8"/>
<circle cx="699.9" cy="1607.3" r="5.9" fill="#4D4D4D"/>
<circle cx="774.45" cy="1575.45" r="35.45" fill="none" stroke="#C9C9C9" stroke-width="1.3"/>
<circle cx="774.35" cy="1575.45" r="30.45" fill="#D45500"/>
<circle cx="761.5" cy="1575.6" r="11.7" fill="#4A96A8"/>
<circle cx="788.6" cy="1575.6" r="10.1" fill="#4A96A8"/>
<circle cx="595.3" cy="1684.9" r="91" fill="none" stroke="#C9C9C9" stroke-width="1.3"/>
<circle cx="556.4" cy="1669.5" r="44.3" fill="#FD9757"/>
<circle cx="537" cy="1669.5" r="19.1" fill="#4A96A8"/>
<circle cx="578.3" cy="1669.5" r="16.4" fill="#4A96A8"/>
<circle cx="641.9" cy="1669.7" r="36.9" fill="#FDCBA6"/>
<circle cx="626.1" cy="1669.5" r="15.2" fill="#4A96A8"/>
<circle cx="659.8" cy="1669.5" r="13" fill="#4A96A8"/>
<circle cx="644.8" cy="1650.8" r="6" fill="#4D4D4D"/>
<circle cx="644.8" cy="1688.4" r="6" fill="#4D4D4D"/>
<circle cx="605.85" cy="1736.1" r="34.4" fill="#D45500"/>
<circle cx="594.9" cy="1735.8" r="17.4" fill="#4A96A8"/>
<circle cx="625.9" cy="1735.8" r="8.4" fill="#F5E41E"/>
<circle cx="764.15" cy="1685.2" r="72.9" fill="none" stroke="#C9C9C9" stroke-width="1.3"/>
<circle cx="739.4" cy="1685.1" r="42.8" fill="#D45500"/>
<circle cx="722.8" cy="1685.2" r="20.1" fill="#F5E41E"/>
<circle cx="762.3" cy="1685.2" r="14.3" fill="#4A96A8"/>
<circle cx="809.4" cy="1685.15" r="22.8" fill="#FD9757"/>
<circle cx="800.9" cy="1685.2" r="8.2" fill="#4A96A8"/>
<circle cx="820.4" cy="1685.2" r="5.6" fill="#4D4D4D"/>
<circle cx="589.6" cy="1827.9" r="40" fill="none" stroke="#C9C9C9" stroke-width="1.3"/>
<circle cx="589.75" cy="1827.75" r="35.05" fill="#D45500"/>
<circle cx="577.1" cy="1827.6" r="16.6" fill="#F5E41E"/>
<circle cx="608.8" cy="1827.6" r="10.1" fill="#4A96A8"/>
<circle cx="696.5" cy="1810.5" r="65" fill="none" stroke="#C9C9C9" stroke-width="1.3"/>
<circle cx="666.65" cy="1810.8" r="30.4" fill="#D45500"/>
<circle cx="653.9" cy="1810.8" r="11.6" fill="#4A96A8"/>
<circle cx="681.1" cy="1810.8" r="10" fill="#4A96A8"/>
<circle cx="668.7" cy="1828.4" r="5.9" fill="#4D4D4D"/>
<circle cx="728.7" cy="1810.85" r="27.5" fill="#FD9757"/>
<circle cx="720.2" cy="1810.8" r="13" fill="#4A96A8"/>
<circle cx="744.4" cy="1810.8" r="5.8" fill="#4D4D4D"/>
<circle cx="797.1" cy="1800" r="32.7" fill="none" stroke="#C9C9C9" stroke-width="1.3"/>
<circle cx="796.95" cy="1800" r="27.7" fill="#D45500"/>
<circle cx="788.4" cy="1800.1" r="13" fill="#4A96A8"/>
<circle cx="812.7" cy="1800.1" r="5.9" fill="#4A96A8"/>
<circle cx="450.05" cy="1907.1" r="25.45" fill="none" stroke="#C9C9C9" stroke-width="1.3"/>
<circle cx="450.1" cy="1907" r="20.35" fill="#D45500"/>
<circle cx="441.7" cy="1907.1" r="5.66" fill="#4D4D4D"/>
<circle cx="458.5" cy="1907.1" r="5.66" fill="#4D4D4D"/>
<circle cx="546.1" cy="1907.4" r="25.3" fill="none" stroke="#C9C9C9" stroke-width="1.3"/>
<circle cx="546.25" cy="1907.1" r="20.35" fill="#D45500"/>
<circle cx="537.8" cy="1907.1" r="5.66" fill="#4D4D4D"/>
<circle cx="554.6" cy="1907.1" r="5.66" fill="#4D4D4D"/>
<circle cx="497.95" cy="1935.9" r="25.5" fill="none" stroke="#C9C9C9" stroke-width="1.3"/>
<circle cx="497.95" cy="1935.65" r="20.4" fill="#D45500"/>
<circle cx="489.65" cy="1935.7" r="5.66" fill="#4D4D4D"/>
<circle cx="506.6" cy="1935.7" r="5.66" fill="#4D4D4D"/>
<circle cx="423.65" cy="2005.35" r="71.6" fill="none" stroke="#C9C9C9" stroke-width="1.3"/>
<circle cx="398.95" cy="2005.7" r="41.6" fill="#D45500"/>
<circle cx="383" cy="1980.3" r="5.9" fill="#4D4D4D"/>
<circle cx="398.9" cy="1985.9" r="5.9" fill="#4D4D4D"/>
<circle cx="414.9" cy="1980.3" r="5.9" fill="#4D4D4D"/>
<circle cx="383.2" cy="2004.6" r="13" fill="#4A96A8"/>
<circle cx="414.8" cy="2004.6" r="12.9" fill="#4A96A8"/>
<circle cx="379.8" cy="2028.25" r="5.9" fill="#4D4D4D"/>
<circle cx="398.9" cy="2025.9" r="8.1" fill="#4A96A8"/>
<circle cx="418.2" cy="2028.25" r="5.85" fill="#4A96A8"/>
<circle cx="467.7" cy="2005.7" r="22.75" fill="#FDCBA6"/>
<circle cx="459.1" cy="2005.5" r="8.3" fill="#4A96A8"/>
<circle cx="478.6" cy="2005.5" r="6" fill="#4A96A8"/>
<circle cx="571.95" cy="2005.5" r="71.45" fill="none" stroke="#C9C9C9" stroke-width="1.3"/>
<circle cx="536.5" cy="2005.7" r="30.85" fill="#FD9757"/>
<circle cx="527.8" cy="2005.5" r="16.3" fill="#4A96A8"/>
<circle cx="555.55" cy="2005.5" r="5.8" fill="#4A96A8"/>
<circle cx="604.95" cy="2005.45" r="33.2" fill="#D45500"/>
<circle cx="590.5" cy="2005.7" r="13.2" fill="#4A96A8"/>
<circle cx="620.5" cy="2005.7" r="11.7" fill="#4A96A8"/>
<circle cx="497.9" cy="2083.7" r="26.6" fill="none" stroke="#C9C9C9" stroke-width="1.3"/>
<circle cx="498.1" cy="2083.8" r="21.7" fill="#D45500"/>
<circle cx="489.5" cy="2079" r="5.8" fill="#4D4D4D"/>
<circle cx="506.5" cy="2079" r="5.8" fill="#4D4D4D"/>
<circle cx="497.9" cy="2093.9" r="5.8" fill="#4D4D4D"/>
<circle cx="447.5" cy="2114.45" r="25.1" fill="none" stroke="#C9C9C9" stroke-width="1.3"/>
<circle cx="447.75" cy="2114.15" r="20.5" fill="#D45500"/>
<circle cx="439.3" cy="2114.1" r="5.8" fill="#4D4D4D"/>
<circle cx="456.4" cy="2114.1" r="5.8" fill="#4A96A8"/>
<circle cx="548.4" cy="2114.35" r="25.3" fill="none" stroke="#C9C9C9" stroke-width="1.3"/>
<circle cx="548.45" cy="2114.15" r="20.6" fill="#D45500"/>
<circle cx="539.9" cy="2114.1" r="5.8" fill="#4D4D4D"/>
<circle cx="557" cy="2114.1" r="5.8" fill="#4D4D4D"/>
<g style="font-family:'Liberation Sans',Arial,sans-serif;font-size:12.6px" text-anchor="middle">
<text x="113.9" y="1554.4">G03</text>
<text x="238.8" y="1531.5">G17</text>
<text x="359.5" y="1574.5">G05</text>
<text x="162.8" y="1651.9">G14</text>
<text x="298.2" y="1659.9">G12</text>
<text x="131" y="1791.5">G11</text>
<text x="237.5" y="1756.7">G15</text>
<text x="350" y="1776.3">G13</text>
<text x="624.6" y="1510.9">L11</text>
<text x="693.8" y="1543.6">L08</text>
<text x="771.2" y="1536.9">L10</text>
<text x="595.2" y="1609.75">L18</text>
<text x="764.4" y="1628.6">L02</text>
<text x="589.9" y="1786.5">L09</text>
<text x="696.25" y="1761.7">L05</text>
<text x="796.65" y="1764.6">L07</text>
<text x="450.2" y="1878.6">K13</text>
<text x="546.2" y="1878.6">K14</text>
<text x="498.25" y="1907.4">K08</text>
<text x="423.9" y="1949.8">K18</text>
<text x="572.15" y="1950">K16</text>
<text x="497.7" y="2054">K11</text>
<text x="448.1" y="2085.3">K15</text>
<text x="548.35" y="2085.3">K17</text>
</g>
<g style="font-family:'Liberation Sans',Arial,sans-serif;font-size:30px" text-anchor="middle">
<text x="235.5" y="1510.8" fill="#AA0000">G</text>
<text x="682.5" y="1520.8" fill="#8C8C8C" stroke="#F4A582" stroke-width="1.2" paint-order="stroke">L</text>
<text x="497.7" y="1883.0" fill="#0B6FB5">K</text>
</g>
<g style="font-family:'Liberation Sans',Arial,sans-serif;font-weight:bold">
<text x="933.5" y="1394" style="font-size:20.6px">center</text>
<text x="933.5" y="1429.3" style="font-size:18.5px" fill="#AA0000">Graz</text>
<text x="933.5" y="1460.3" style="font-size:18.5px" fill="#0B6FB5">Klagenfurt</text>
<text x="933.5" y="1493.6" style="font-size:18.5px" fill="#F4A582">Leoben</text>
<text x="934.8" y="1556.1" style="font-size:20.5px">timepoints</text>
<text x="935.5" y="1711.4" style="font-size:20.5px">type</text>
<text x="933.6" y="1884.8" style="font-size:20.6px">Number of hits</text>
</g>
<circle cx="945.4" cy="1583.8" r="11.8" fill="#FDCBA6"/>
<circle cx="945.4" cy="1617.6" r="11.8" fill="#FD9757"/>
<circle cx="945.4" cy="1651.2" r="11.8" fill="#D45500"/>
<circle cx="945.4" cy="1746.2" r="11.8" fill="#4A96A8"/>
<circle cx="945.4" cy="1779.7" r="11.8" fill="#F5E41E"/>
<circle cx="945.4" cy="1813.7" r="11.8" fill="#4D4D4D"/>
<g style="font-family:'Liberation Sans',Arial,sans-serif;font-size:15.5px">
<text x="980.2" y="1589.4">1</text>
<text x="980.2" y="1623.2">3</text>
<text x="980.2" y="1656.8">7</text>
<text x="980.2" y="1753.6">MAG</text>
<text x="980.2" y="1786.0">contig</text>
<text x="980.2" y="1819.3">none</text>
<text x="1005" y="1923.5">1.0</text>
<text x="1005" y="1965.2">7.0</text>
<text x="1005" y="2038.5">88.0</text>
</g>
<circle cx="949.9" cy="1916.5" r="6.65" fill="none" stroke="#BEBEBE" stroke-width="1.0"/>
<circle cx="949.9" cy="1958" r="17.5" fill="none" stroke="#BEBEBE" stroke-width="1.0"/>
<circle cx="952" cy="2031.8" r="45.6" fill="none" stroke="#BEBEBE" stroke-width="1.0"/>
<text x="1108.5" y="1331.2" style="font-family:'DejaVu Sans',Verdana,sans-serif;font-weight:bold;font-size:42px">d</text>
<circle cx="1615.1" cy="1728.8" r="442.2" fill="none" stroke="#CCCCCC" stroke-width="1.3"/>
<text x="1612.8" y="1348.6" text-anchor="middle" style="font-family:'DejaVu Sans',Verdana,sans-serif;font-size:29px">VFDB</text>
<circle cx="1437.6" cy="1566.8" r="199" fill="none" stroke="#AA0000" stroke-width="1.6"/>
<circle cx="1827" cy="1609.05" r="188.95" fill="none" stroke="#F4A582" stroke-width="1.6"/>
<circle cx="1606.5" cy="1948.3" r="210.2" fill="none" stroke="#0B6FB5" stroke-width="1.6"/>
<circle cx="1357.85" cy="1449.1" r="51.65" fill="none" stroke="#C9C9C9" stroke-width="1.3"/>
<circle cx="1334.6" cy="1449.4" r="22.6" fill="#FD9757"/>
<circle cx="1326.7" cy="1449.4" r="8.5" fill="#4A96A8"/>
<circle cx="1346" cy="1449.4" r="4.9" fill="#4D4D4D"/>
<circle cx="1382.9" cy="1449.35" r="21" fill="#D45500"/>
<circle cx="1374.8" cy="1449.4" r="7.1" fill="#4A96A8"/>
<circle cx="1392.6" cy="1449.4" r="4.9" fill="#4D4D4D"/>
<circle cx="1462.9" cy="1474.35" r="51.3" fill="none" stroke="#C9C9C9" stroke-width="1.3"/>
<circle cx="1438.85" cy="1474.65" r="21.9" fill="#FD9757"/>
<circle cx="1431.15" cy="1470.9" r="7" fill="#4A96A8"/>
<circle cx="1448.7" cy="1470.9" r="4.9" fill="#4D4D4D"/>
<circle cx="1441.9" cy="1484.8" r="5" fill="#F5E41E"/>
<circle cx="1487" cy="1474.65" r="22" fill="#D45500"/>
<circle cx="1479.5" cy="1470.9" r="7" fill="#4A96A8"/>
<circle cx="1497.1" cy="1470.9" r="4.9" fill="#4D4D4D"/>
<circle cx="1490.1" cy="1485" r="4.9" fill="#4A96A8"/>
<circle cx="1565.65" cy="1501.8" r="49.4" fill="none" stroke="#C9C9C9" stroke-width="1.3"/>
<circle cx="1542.7" cy="1501.8" r="21" fill="#FD9757"/>
<circle cx="1534.9" cy="1501.8" r="7" fill="#4A96A8"/>
<circle cx="1552.5" cy="1501.8" r="4.9" fill="#4D4D4D"/>
<circle cx="1589.25" cy="1501.8" r="21" fill="#D45500"/>
<circle cx="1581.5" cy="1501.8" r="7" fill="#4A96A8"/>
<circle cx="1599.1" cy="1501.8" r="5" fill="#4A96A8"/>
<circle cx="1385.1" cy="1566.55" r="63.6" fill="none" stroke="#C9C9C9" stroke-width="1.3"/>
<circle cx="1361.9" cy="1566.65" r="35.1" fill="#D45500"/>
<circle cx="1352.2" cy="1566.8" r="18.9" fill="#4A96A8"/>
<circle cx="1376.9" cy="1550.5" r="5.1" fill="#4A96A8"/>
<circle cx="1383.8" cy="1566.8" r="7.1" fill="#4A96A8"/>
<circle cx="1376.9" cy="1583" r="4.9" fill="#4D4D4D"/>
<circle cx="1422.65" cy="1566.7" r="21.05" fill="#FD9757"/>
<circle cx="1414.7" cy="1566.8" r="7" fill="#4A96A8"/>
<circle cx="1432.3" cy="1566.8" r="4.9" fill="#4D4D4D"/>
<circle cx="1495" cy="1570" r="39.6" fill="none" stroke="#C9C9C9" stroke-width="1.3"/>
<circle cx="1495.3" cy="1569.9" r="35.4" fill="#D45500"/>
<circle cx="1494.4" cy="1545.7" r="4.9" fill="#4D4D4D"/>
<circle cx="1507.9" cy="1553.6" r="4.9" fill="#4D4D4D"/>
<circle cx="1489.2" cy="1569.5" r="14.1" fill="#4A96A8"/>
<circle cx="1515.8" cy="1569.5" r="7" fill="#4A96A8"/>
<circle cx="1508.15" cy="1587.6" r="7" fill="#F5E41E"/>
<circle cx="1492.1" cy="1593.7" r="4.9" fill="#4D4D4D"/>
<circle cx="1357.2" cy="1683.7" r="51.5" fill="none" stroke="#C9C9C9" stroke-width="1.3"/>
<circle cx="1333.6" cy="1684" r="22.7" fill="#D45500"/>
<circle cx="1325.9" cy="1683.95" r="8.6" fill="#4A96A8"/>
<circle cx="1345.1" cy="1683.95" r="4.9" fill="#4D4D4D"/>
<circle cx="1382.1" cy="1683.75" r="21" fill="#FD9757"/>
<circle cx="1374" cy="1683.95" r="7" fill="#4A96A8"/>
<circle cx="1391.8" cy="1683.95" r="5" fill="#4A96A8"/>
<circle cx="1462.7" cy="1659.5" r="51.8" fill="none" stroke="#C9C9C9" stroke-width="1.3"/>
<circle cx="1439.9" cy="1659.7" r="23.3" fill="#D45500"/>
<circle cx="1429.9" cy="1657.1" r="6.8" fill="#4A96A8"/>
<circle cx="1449.5" cy="1657.1" r="6.8" fill="#4A96A8"/>
<circle cx="1439.6" cy="1671.6" r="5" fill="#4D4D4D"/>
<circle cx="1488.85" cy="1659.7" r="21" fill="#FD9757"/>
<circle cx="1481" cy="1659.5" r="7" fill="#4A96A8"/>
<circle cx="1498.6" cy="1659.5" r="4.9" fill="#4D4D4D"/>
<circle cx="1557.3" cy="1628.75" r="41.9" fill="none" stroke="#C9C9C9" stroke-width="1.3"/>
<circle cx="1542.15" cy="1628.95" r="21" fill="#FD9757"/>
<circle cx="1534.3" cy="1628.8" r="6.9" fill="#4A96A8"/>
<circle cx="1552.2" cy="1628.8" r="4.9" fill="#4D4D4D"/>
<circle cx="1581.1" cy="1628.8" r="13.2" fill="#D45500"/>
<circle cx="1581" cy="1628.8" r="7.2" fill="#F5E41E"/>
<circle cx="1823.3" cy="1460.75" r="25.7" fill="none" stroke="#C9C9C9" stroke-width="1.3"/>
<circle cx="1823.2" cy="1459.85" r="21.1" fill="#D45500"/>
<circle cx="1815.6" cy="1459.6" r="7.1" fill="#4A96A8"/>
<circle cx="1833.2" cy="1459.6" r="5" fill="#F5E41E"/>
<circle cx="1873.5" cy="1489.85" r="25.9" fill="none" stroke="#C9C9C9" stroke-width="1.3"/>
<circle cx="1873.7" cy="1489.05" r="21.1" fill="#D45500"/>
<circle cx="1865.9" cy="1488.9" r="7.1" fill="#4A96A8"/>
<circle cx="1883.5" cy="1488.9" r="5" fill="#4A96A8"/>
<circle cx="1910.55" cy="1534.5" r="27" fill="none" stroke="#C9C9C9" stroke-width="1.3"/>
<circle cx="1911" cy="1534.9" r="22.1" fill="#D45500"/>
<circle cx="1903.2" cy="1530.7" r="7.1" fill="#4A96A8"/>
<circle cx="1920.9" cy="1530.7" r="5" fill="#4D4D4D"/>
<circle cx="1914" cy="1544.9" r="5" fill="#4D4D4D"/>
<circle cx="1768.45" cy="1607.1" r="124.05" fill="none" stroke="#C9C9C9" stroke-width="1.3"/>
<circle cx="1712.85" cy="1608.45" r="63.55" fill="#FD9757"/>
<circle cx="1701.55" cy="1608.4" r="45.6" fill="#4A96A8"/>
<circle cx="1761.4" cy="1608.5" r="8.4" fill="#4A96A8"/>
<circle cx="1835.95" cy="1608.4" r="55.2" fill="#FDCBA6"/>
<circle cx="1816" cy="1607.3" r="28.95" fill="#4A96A8"/>
<circle cx="1851.9" cy="1576.3" r="12.9" fill="#4A96A8"/>
<circle cx="1866.2" cy="1607.5" r="15.6" fill="#4A96A8"/>
<circle cx="1852.3" cy="1639.7" r="13.9" fill="#4A96A8"/>
<circle cx="1829.3" cy="1570.1" r="5.1" fill="#F5E41E"/>
<circle cx="1779.4" cy="1651.45" r="11.3" fill="#D45500"/>
<circle cx="1779.4" cy="1651.45" r="5.2" fill="#4A96A8"/>
<circle cx="1955.95" cy="1609.1" r="53.6" fill="none" stroke="#C9C9C9" stroke-width="1.3"/>
<circle cx="1932.5" cy="1608.4" r="25.3" fill="#D45500"/>
<circle cx="1932.7" cy="1594.6" r="5.2" fill="#F5E41E"/>
<circle cx="1921.8" cy="1608.4" r="7.1" fill="#4A96A8"/>
<circle cx="1939.4" cy="1608.4" r="5" fill="#4D4D4D"/>
<circle cx="1932.5" cy="1622.4" r="5" fill="#4D4D4D"/>
<circle cx="1983.15" cy="1608.3" r="21.1" fill="#FD9757"/>
<circle cx="1975.65" cy="1608.4" r="7.1" fill="#4A96A8"/>
<circle cx="1992.9" cy="1608.4" r="5" fill="#4D4D4D"/>
<circle cx="1915.95" cy="1700.75" r="39.95" fill="none" stroke="#C9C9C9" stroke-width="1.3"/>
<circle cx="1900.5" cy="1699.2" r="19.1" fill="#FD9757"/>
<circle cx="1892.5" cy="1699.05" r="5" fill="#4D4D4D"/>
<circle cx="1908.2" cy="1699.05" r="4.9" fill="#4A96A8"/>
<circle cx="1937.3" cy="1699.25" r="13.4" fill="#D45500"/>
<circle cx="1937.3" cy="1699.05" r="7" fill="#4A96A8"/>
<circle cx="1857" cy="1741.5" r="26" fill="none" stroke="#C9C9C9" stroke-width="1.3"/>
<circle cx="1857.1" cy="1740.6" r="21.05" fill="#D45500"/>
<circle cx="1849.35" cy="1740.5" r="6.9" fill="#4A96A8"/>
<circle cx="1867" cy="1740.5" r="4.85" fill="#4D4D4D"/>
<circle cx="1803.25" cy="1763.6" r="26.1" fill="none" stroke="#C9C9C9" stroke-width="1.3"/>
<circle cx="1803.4" cy="1763.05" r="21.25" fill="#D45500"/>
<circle cx="1795.8" cy="1762.9" r="7" fill="#4A96A8"/>
<circle cx="1813.1" cy="1762.9" r="4.85" fill="#4D4D4D"/>
<circle cx="1584" cy="1800.65" r="24.3" fill="none" stroke="#C9C9C9" stroke-width="1.3"/>
<circle cx="1584" cy="1800.5" r="19.1" fill="#D45500"/>
<circle cx="1576.1" cy="1800.7" r="5" fill="#4D4D4D"/>
<circle cx="1591.9" cy="1800.7" r="5" fill="#4D4D4D"/>
<circle cx="1630.65" cy="1828" r="24.4" fill="none" stroke="#C9C9C9" stroke-width="1.3"/>
<circle cx="1630.75" cy="1828" r="19.1" fill="#D45500"/>
<circle cx="1623.1" cy="1827.9" r="5" fill="#4D4D4D"/>
<circle cx="1638.8" cy="1827.9" r="5" fill="#4D4D4D"/>
<circle cx="1666.85" cy="1869.55" r="25" fill="none" stroke="#C9C9C9" stroke-width="1.3"/>
<circle cx="1667.25" cy="1869.75" r="20.2" fill="#D45500"/>
<circle cx="1659.8" cy="1865.4" r="5" fill="#4D4D4D"/>
<circle cx="1675.05" cy="1865.4" r="5" fill="#4D4D4D"/>
<circle cx="1667.3" cy="1878.7" r="5" fill="#4D4D4D"/>
<circle cx="1717.65" cy="1846.9" r="24.3" fill="none" stroke="#C9C9C9" stroke-width="1.3"/>
<circle cx="1717.75" cy="1846.6" r="19.05" fill="#D45500"/>
<circle cx="1709.9" cy="1846.7" r="5" fill="#4D4D4D"/>
<circle cx="1725.4" cy="1846.7" r="5" fill="#4D4D4D"/>
<circle cx="1529.15" cy="1948.4" r="128" fill="none" stroke="#C9C9C9" stroke-width="1.3"/>
<circle cx="1463" cy="1948.5" r="56.3" fill="#D45500"/>
<circle cx="1455.25" cy="1947.3" r="42.3" fill="#4A96A8"/>
<circle cx="1508" cy="1947.45" r="5" fill="#4D4D4D"/>
<circle cx="1505.8" cy="1962.85" r="5" fill="#F5E41E"/>
<circle cx="1588" cy="1948.6" r="63.95" fill="#FD9757"/>
<circle cx="1569.5" cy="1948.5" r="39.5" fill="#4A96A8"/>
<circle cx="1629.9" cy="1948.45" r="15.5" fill="#4A96A8"/>
<circle cx="1614.8" cy="1969.5" r="5" fill="#F5E41E"/>
<circle cx="1736.6" cy="1948.5" r="74.1" fill="none" stroke="#C9C9C9" stroke-width="1.3"/>
<circle cx="1713.15" cy="1948.5" r="45.3" fill="#D45500"/>
<circle cx="1696.4" cy="1946.05" r="21.85" fill="#4A96A8"/>
<circle cx="1733.6" cy="1946.1" r="9.9" fill="#4A96A8"/>
<circle cx="1712.1" cy="1917.8" r="5" fill="#4D4D4D"/>
<circle cx="1723.6" cy="1928.2" r="5" fill="#4D4D4D"/>
<circle cx="1739" cy="1926.4" r="5" fill="#4D4D4D"/>
<circle cx="1723.6" cy="1963.7" r="5" fill="#4D4D4D"/>
<circle cx="1739" cy="1965.9" r="5" fill="#4D4D4D"/>
<circle cx="1712.1" cy="1974.4" r="5" fill="#4D4D4D"/>
<circle cx="1696.95" cy="1978.3" r="5" fill="#F5E41E"/>
<circle cx="1783.95" cy="1948.55" r="21.05" fill="#FDCBA6"/>
<circle cx="1776.05" cy="1948.5" r="7.1" fill="#4A96A8"/>
<circle cx="1793.9" cy="1948.5" r="5.1" fill="#4A96A8"/>
<circle cx="1670.4" cy="2053.8" r="37" fill="none" stroke="#C9C9C9" stroke-width="1.3"/>
<circle cx="1670.3" cy="2053.65" r="31.6" fill="#D45500"/>
<circle cx="1662.5" cy="2053.7" r="17.7" fill="#4A96A8"/>
<circle cx="1690.9" cy="2053.7" r="4.95" fill="#4D4D4D"/>
<circle cx="1614.3" cy="2090.75" r="24.45" fill="none" stroke="#C9C9C9" stroke-width="1.3"/>
<circle cx="1614.5" cy="2090.8" r="19.2" fill="#D45500"/>
<circle cx="1606.9" cy="2090.65" r="4.95" fill="#4D4D4D"/>
<circle cx="1622.2" cy="2090.65" r="4.95" fill="#4D4D4D"/>
<g style="font-family:'Liberation Sans',Arial,sans-serif;font-size:12.6px" text-anchor="middle">
<text x="1357.85" y="1414.1">G03</text>
<text x="1462.45" y="1439">G11</text>
<text x="1565.85" y="1467.8">G17</text>
<text x="1385.35" y="1518.8">G14</text>
<text x="1495.3" y="1529.1">G15</text>
<text x="1357.2" y="1648.4">G13</text>
<text x="1463.1" y="1623">G05</text>
<text x="1557.7" y="1602.9">G12</text>
<text x="1823.3" y="1436.4">L09</text>
<text x="1873.7" y="1465.65">L07</text>
<text x="1910.5" y="1510.2">L11</text>
<text x="1770.5" y="1485.5">L18</text>
<text x="1955.8" y="1557.4">L05</text>
<text x="1915.95" y="1662.1">L02</text>
<text x="1857.15" y="1717">L08</text>
<text x="1803.45" y="1739.6">L10</text>
<text x="1583.95" y="1773.2">K17</text>
<text x="1631.05" y="1800.4">K08</text>
<text x="1666.8" y="1841.2">K11</text>
<text x="1717.5" y="1818.8">K14</text>
<text x="1529.45" y="1836.6">K16</text>
<text x="1736.6" y="1890.9">K18</text>
<text x="1670.5" y="2013.5">K15</text>
<text x="1614.6" y="2063.3">K13</text>
</g>
<g style="font-family:'Liberation Sans',Arial,sans-serif;font-size:30px" text-anchor="middle">
<text x="1438.2" y="1401.3" fill="#AA0000">G</text>
<text x="1772.5" y="1459.9" fill="#F4A582">L</text>
<text x="1625.7" y="1771.0" fill="#0B6FB5">K</text>
</g>
</svg>
</body></html>
